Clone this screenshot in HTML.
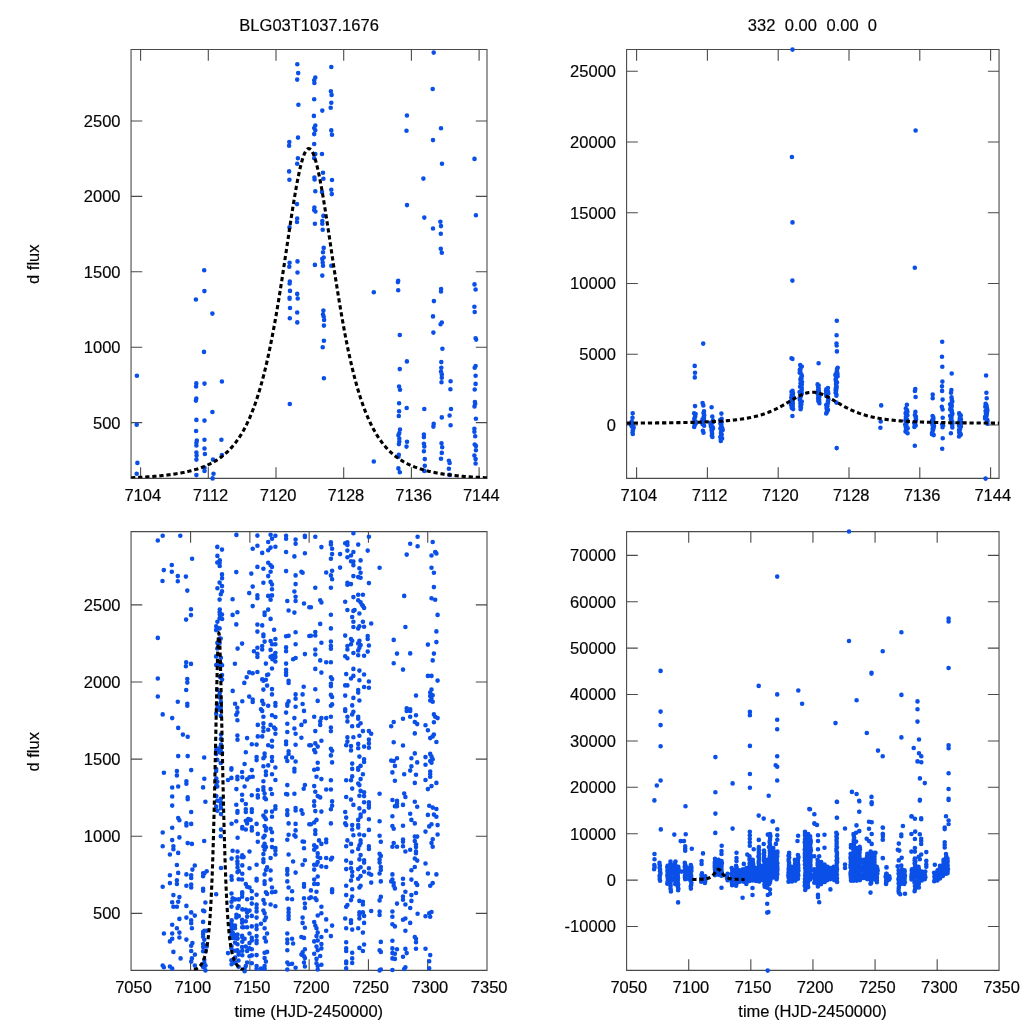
<!DOCTYPE html>
<html><head><meta charset="utf-8"><title>BLG03T1037.1676</title>
<style>html,body{margin:0;padding:0;background:#fff}svg{display:block;filter:blur(0.35px)}text{font-family:"Liberation Sans",sans-serif}</style>
</head><body>
<svg width="1024" height="1024" viewBox="0 0 1024 1024">
<rect width="1024" height="1024" fill="#fff"/>
<defs>
<clipPath id="cTL"><rect x="131.05" y="49.55" width="355.9" height="428.8"/></clipPath>
<clipPath id="cTR"><rect x="626.6" y="49.55" width="372.4" height="428.8"/></clipPath>
<clipPath id="cBL"><rect x="131.05" y="531.6" width="355.9" height="438.8"/></clipPath>
<clipPath id="cBR"><rect x="626.6" y="531.6" width="372.4" height="438.8"/></clipPath>
</defs>
<path d="M131.05 49.55H487.0V478.4H131.05ZM140.60 478.4v-11.2M140.60 49.55v11.2M208.30 478.4v-11.2M208.30 49.55v11.2M276.00 478.4v-11.2M276.00 49.55v11.2M343.70 478.4v-11.2M343.70 49.55v11.2M411.40 478.4v-11.2M411.40 49.55v11.2M479.10 478.4v-11.2M479.10 49.55v11.2M131.05 422.60h11.2M487.0 422.60h-11.2M131.05 347.20h11.2M487.0 347.20h-11.2M131.05 271.80h11.2M487.0 271.80h-11.2M131.05 196.40h11.2M487.0 196.40h-11.2M131.05 121.00h11.2M487.0 121.00h-11.2" fill="none" stroke="#4a4a4a" stroke-width="1.1"/>
<path d="M626.6 49.55H999.05V478.4H626.6ZM636.60 478.4v-11.2M636.60 49.55v11.2M707.40 478.4v-11.2M707.40 49.55v11.2M778.20 478.4v-11.2M778.20 49.55v11.2M849.00 478.4v-11.2M849.00 49.55v11.2M919.80 478.4v-11.2M919.80 49.55v11.2M990.60 478.4v-11.2M990.60 49.55v11.2M626.6 425.00h11.2M999.05 425.00h-11.2M626.6 354.25h11.2M999.05 354.25h-11.2M626.6 283.50h11.2M999.05 283.50h-11.2M626.6 212.75h11.2M999.05 212.75h-11.2M626.6 142.00h11.2M999.05 142.00h-11.2M626.6 71.25h11.2M999.05 71.25h-11.2" fill="none" stroke="#4a4a4a" stroke-width="1.1"/>
<path d="M131.05 531.6H487.0V970.4H131.05ZM190.58 970.4v-11.2M190.58 531.6v11.2M249.87 970.4v-11.2M249.87 531.6v11.2M309.15 970.4v-11.2M309.15 531.6v11.2M368.43 970.4v-11.2M368.43 531.6v11.2M427.72 970.4v-11.2M427.72 531.6v11.2M131.05 913.33h11.2M487.0 913.33h-11.2M131.05 836.21h11.2M487.0 836.21h-11.2M131.05 759.09h11.2M487.0 759.09h-11.2M131.05 681.97h11.2M487.0 681.97h-11.2M131.05 604.85h11.2M487.0 604.85h-11.2" fill="none" stroke="#4a4a4a" stroke-width="1.1"/>
<path d="M626.6 531.6H999.05V970.4H626.6ZM688.72 970.4v-11.2M688.72 531.6v11.2M750.83 970.4v-11.2M750.83 531.6v11.2M812.95 970.4v-11.2M812.95 531.6v11.2M875.07 970.4v-11.2M875.07 531.6v11.2M937.18 970.4v-11.2M937.18 531.6v11.2M626.6 926.49h11.2M999.05 926.49h-11.2M626.6 880.10h11.2M999.05 880.10h-11.2M626.6 833.71h11.2M999.05 833.71h-11.2M626.6 787.32h11.2M999.05 787.32h-11.2M626.6 740.93h11.2M999.05 740.93h-11.2M626.6 694.54h11.2M999.05 694.54h-11.2M626.6 648.15h11.2M999.05 648.15h-11.2M626.6 601.76h11.2M999.05 601.76h-11.2M626.6 555.37h11.2M999.05 555.37h-11.2" fill="none" stroke="#4a4a4a" stroke-width="1.1"/>
<g font-family="Liberation Sans, sans-serif" font-size="16.5px" fill="#000" stroke="#000" stroke-width="0.18" opacity="0.985">
<text x="142.8" y="500.9" text-anchor="middle">7104</text>
<text x="210.5" y="500.9" text-anchor="middle">7112</text>
<text x="278.2" y="500.9" text-anchor="middle">7120</text>
<text x="345.9" y="500.9" text-anchor="middle">7128</text>
<text x="413.6" y="500.9" text-anchor="middle">7136</text>
<text x="481.3" y="500.9" text-anchor="middle">7144</text>
<text x="120.5" y="428.5" text-anchor="end">500</text>
<text x="120.5" y="353.1" text-anchor="end">1000</text>
<text x="120.5" y="277.7" text-anchor="end">1500</text>
<text x="120.5" y="202.3" text-anchor="end">2000</text>
<text x="120.5" y="126.9" text-anchor="end">2500</text>
<text x="638.8" y="500.9" text-anchor="middle">7104</text>
<text x="709.6" y="500.9" text-anchor="middle">7112</text>
<text x="780.4" y="500.9" text-anchor="middle">7120</text>
<text x="851.2" y="500.9" text-anchor="middle">7128</text>
<text x="922.0" y="500.9" text-anchor="middle">7136</text>
<text x="992.8" y="500.9" text-anchor="middle">7144</text>
<text x="616.0" y="430.9" text-anchor="end">0</text>
<text x="616.0" y="360.1" text-anchor="end">5000</text>
<text x="616.0" y="289.4" text-anchor="end">10000</text>
<text x="616.0" y="218.7" text-anchor="end">15000</text>
<text x="616.0" y="147.9" text-anchor="end">20000</text>
<text x="616.0" y="77.2" text-anchor="end">25000</text>
<text x="133.5" y="992.9" text-anchor="middle">7050</text>
<text x="192.8" y="992.9" text-anchor="middle">7100</text>
<text x="252.1" y="992.9" text-anchor="middle">7150</text>
<text x="311.3" y="992.9" text-anchor="middle">7200</text>
<text x="370.6" y="992.9" text-anchor="middle">7250</text>
<text x="429.9" y="992.9" text-anchor="middle">7300</text>
<text x="489.2" y="992.9" text-anchor="middle">7350</text>
<text x="120.5" y="919.2" text-anchor="end">500</text>
<text x="120.5" y="842.1" text-anchor="end">1000</text>
<text x="120.5" y="765.0" text-anchor="end">1500</text>
<text x="120.5" y="687.9" text-anchor="end">2000</text>
<text x="120.5" y="610.8" text-anchor="end">2500</text>
<text x="628.8" y="992.9" text-anchor="middle">7050</text>
<text x="690.9" y="992.9" text-anchor="middle">7100</text>
<text x="753.0" y="992.9" text-anchor="middle">7150</text>
<text x="815.2" y="992.9" text-anchor="middle">7200</text>
<text x="877.3" y="992.9" text-anchor="middle">7250</text>
<text x="939.4" y="992.9" text-anchor="middle">7300</text>
<text x="1001.5" y="992.9" text-anchor="middle">7350</text>
<text x="616.0" y="932.4" text-anchor="end">-10000</text>
<text x="616.0" y="886.0" text-anchor="end">0</text>
<text x="616.0" y="839.6" text-anchor="end">10000</text>
<text x="616.0" y="793.2" text-anchor="end">20000</text>
<text x="616.0" y="746.8" text-anchor="end">30000</text>
<text x="616.0" y="700.4" text-anchor="end">40000</text>
<text x="616.0" y="654.1" text-anchor="end">50000</text>
<text x="616.0" y="607.7" text-anchor="end">60000</text>
<text x="616.0" y="561.3" text-anchor="end">70000</text>
<text x="309.1" y="30.6" text-anchor="middle">BLG03T1037.1676</text>
<text x="747.8" y="30.6">332</text>
<text x="784.8" y="30.6">0.00</text>
<text x="826.6" y="30.6">0.00</text>
<text x="867.7" y="30.6">0</text>
<text x="308.8" y="1017" text-anchor="middle">time (HJD-2450000)</text>
<text x="812.6" y="1017" text-anchor="middle">time (HJD-2450000)</text>
<text transform="translate(38.9 264.2) rotate(-90)" text-anchor="middle">d flux</text>
<text transform="translate(38.9 751.8) rotate(-90)" text-anchor="middle">d flux</text>
</g>
<path d="M297.3 64.3h0M298.2 73.1h0M297.2 79.6h0M298.4 104.8h0M298.0 137.6h0M289.3 142.0h0M289.1 145.7h0M297.9 158.2h0M297.2 163.7h0M289.1 171.4h0M289.4 179.8h0M297.0 204.1h0M297.2 218.5h0M297.0 222.0h0M289.5 227.4h0M289.6 262.8h0M289.3 266.7h0M297.5 261.4h0M297.5 272.5h0M289.8 281.6h0M289.6 283.4h0M290.0 290.9h0M297.2 293.9h0M289.6 297.8h0M289.6 298.8h0M297.7 298.5h0M290.0 308.0h0M297.2 312.5h0M289.8 318.2h0M297.3 322.4h0M289.8 404.0h0M204.2 270.2h0M204.4 291.1h0M195.9 299.5h0M212.4 313.6h0M204.0 351.9h0M136.9 375.8h0M196.3 383.4h0M196.1 386.4h0M204.5 383.6h0M221.9 381.5h0M196.3 398.5h0M195.9 400.6h0M212.4 412.0h0M196.4 419.9h0M204.5 420.6h0M136.7 424.8h0M196.1 431.0h0M221.4 439.7h0M204.5 439.7h0M196.8 440.6h0M196.4 442.7h0M196.4 445.5h0M204.5 448.5h0M196.4 452.6h0M204.9 454.0h0M196.6 455.6h0M221.9 455.0h0M196.4 459.6h0M213.0 459.6h0M137.4 462.9h0M204.5 467.9h0M204.5 470.9h0M136.7 473.7h0M196.4 475.1h0M213.5 473.7h0M212.6 478.4h0M315.3 77.5h0M314.2 80.2h0M314.4 83.0h0M314.2 99.2h0M313.9 115.9h0M315.3 125.5h0M314.2 128.0h0M315.3 130.3h0M314.2 134.1h0M314.2 144.0h0M315.3 154.0h0M314.2 158.2h0M314.4 177.5h0M314.6 179.5h0M315.3 191.3h0M314.4 207.6h0M314.2 210.1h0M315.4 211.5h0M314.9 223.8h0M322.3 110.6h0M322.0 154.0h0M323.0 172.8h0M323.4 178.8h0M322.0 192.1h0M323.4 215.9h0M322.3 221.1h0M322.3 223.8h0M331.3 67.0h0M330.9 91.2h0M331.6 94.9h0M331.3 102.7h0M330.7 107.8h0M331.3 130.4h0M332.0 134.8h0M332.0 180.0h0M331.3 189.7h0M331.8 194.1h0M433.7 52.6h0M432.7 89.0h0M406.9 115.5h0M406.5 130.8h0M441.0 128.2h0M433.0 140.1h0M474.5 158.9h0M442.0 163.8h0M423.4 178.6h0M407.0 205.1h0M475.9 215.3h0M424.3 217.6h0M440.4 221.7h0M441.0 226.1h0M433.0 228.5h0M322.7 229.8h0M323.7 247.9h0M323.0 252.3h0M323.7 257.5h0M322.3 258.9h0M322.7 262.5h0M323.0 265.8h0M314.9 264.9h0M331.3 265.8h0M322.3 275.6h0M323.4 310.6h0M323.0 314.5h0M323.7 316.8h0M324.1 319.9h0M323.9 325.6h0M323.9 340.7h0M322.7 347.2h0M323.9 378.3h0M373.8 292.2h0M398.2 280.7h0M397.9 282.1h0M398.2 290.2h0M399.8 335.0h0M406.9 361.4h0M399.8 369.1h0M399.1 386.5h0M400.0 389.7h0M399.1 403.2h0M406.7 408.0h0M433.9 301.1h0M433.0 316.4h0M433.4 332.6h0M440.8 233.8h0M440.8 248.7h0M441.8 252.8h0M441.1 289.0h0M441.0 291.5h0M441.8 322.6h0M440.6 324.3h0M442.4 348.8h0M441.3 362.1h0M441.3 367.7h0M441.0 371.8h0M441.8 374.4h0M441.8 377.8h0M441.5 382.3h0M450.6 381.3h0M450.4 389.2h0M451.0 409.0h0M424.3 409.0h0M474.5 284.4h0M475.6 289.5h0M474.4 306.7h0M474.7 312.0h0M475.6 338.2h0M476.1 339.6h0M475.6 366.0h0M474.7 367.7h0M475.6 375.7h0M475.6 383.9h0M474.7 389.5h0M474.9 402.0h0M475.2 403.8h0M474.5 406.4h0M399.1 411.3h0M398.8 416.0h0M400.0 429.5h0M399.3 433.1h0M398.4 435.3h0M399.3 438.5h0M399.3 441.5h0M398.9 444.1h0M398.8 454.7h0M398.4 456.8h0M398.4 468.4h0M399.8 472.3h0M407.0 441.7h0M406.5 446.6h0M373.8 461.5h0M423.9 434.5h0M423.9 437.1h0M423.9 443.8h0M424.3 446.4h0M423.9 451.2h0M424.8 459.1h0M424.8 465.8h0M424.3 470.9h0M433.7 423.9h0M433.4 426.6h0M441.8 417.4h0M441.5 443.3h0M442.2 447.3h0M441.8 452.9h0M441.0 458.7h0M449.6 415.5h0M450.6 425.3h0M448.9 460.8h0M449.6 462.9h0M448.9 468.7h0M449.6 474.9h0M475.9 418.8h0M474.4 428.8h0M474.4 431.8h0M475.2 436.2h0M474.7 444.5h0M475.9 445.9h0M475.9 450.3h0M474.4 455.6h0M475.6 459.1h0M475.6 463.5h0" fill="none" stroke="#0a4fe8" stroke-width="4.6" stroke-linecap="round"/>
<path d="M631.7 421.5h0M632.1 422.8h0M632.7 424.1h0M631.1 425.0h0M631.8 426.5h0M633.7 427.6h0M633.3 428.8h0M632.8 430.0h0M632.8 430.9h0M632.5 432.5h0M632.8 434.0h0M632.7 413.2h0M632.5 417.8h0M694.1 413.2h0M695.6 414.0h0M695.2 415.3h0M695.2 416.8h0M694.3 418.5h0M694.5 420.0h0M695.6 421.6h0M693.7 422.5h0M695.8 423.5h0M694.9 424.7h0M694.6 425.8h0M694.2 426.9h0M694.7 365.9h0M695.0 372.7h0M694.8 377.4h0M695.0 406.1h0M704.0 411.3h0M703.5 413.0h0M704.0 413.9h0M704.2 415.6h0M703.7 416.9h0M704.0 417.9h0M702.5 419.2h0M704.0 420.1h0M702.0 421.8h0M702.9 423.3h0M702.6 424.2h0M704.1 425.7h0M703.2 343.6h0M702.6 403.0h0M703.3 405.4h0M702.9 430.8h0M703.5 432.7h0M713.0 420.6h0M713.1 421.9h0M710.7 422.9h0M710.6 424.3h0M711.6 425.3h0M710.9 426.6h0M712.8 427.4h0M713.0 428.5h0M711.5 430.1h0M711.9 431.3h0M712.0 432.7h0M712.1 434.0h0M711.8 435.7h0M712.4 436.9h0M711.6 407.3h0M712.3 416.5h0M721.6 418.8h0M720.2 420.1h0M721.7 421.3h0M721.8 422.1h0M720.4 423.5h0M721.4 424.8h0M721.1 426.2h0M722.1 427.7h0M720.4 428.5h0M722.7 429.9h0M721.4 430.9h0M721.0 432.3h0M721.0 433.4h0M721.7 434.5h0M721.2 435.6h0M720.3 437.1h0M722.1 438.4h0M720.8 439.5h0M720.8 441.0h0M721.4 413.6h0M792.5 390.9h0M791.5 391.8h0M792.9 392.9h0M792.9 394.1h0M791.6 395.0h0M793.0 396.4h0M791.3 397.6h0M792.1 398.5h0M792.8 399.5h0M791.2 401.1h0M792.8 402.1h0M792.8 403.5h0M791.0 404.6h0M792.8 405.7h0M791.6 406.7h0M791.8 407.9h0M793.1 409.1h0M791.5 358.2h0M792.4 358.9h0M792.4 416.0h0M792.5 49.6h0M791.9 157.0h0M792.5 222.4h0M792.4 280.6h0M800.2 365.0h0M801.8 366.5h0M800.9 367.9h0M800.5 368.9h0M799.8 369.9h0M800.3 371.3h0M799.7 372.8h0M801.4 374.4h0M801.9 376.0h0M801.1 377.6h0M801.5 378.5h0M800.4 379.4h0M801.0 380.8h0M802.0 382.0h0M800.5 383.3h0M801.8 384.4h0M801.6 385.6h0M800.1 386.7h0M801.7 388.0h0M801.7 388.9h0M801.7 390.6h0M799.6 392.1h0M801.8 393.5h0M800.3 394.3h0M801.0 395.4h0M800.8 396.5h0M799.6 398.0h0M799.9 398.9h0M799.8 399.8h0M801.8 401.5h0M800.9 402.4h0M800.4 403.4h0M801.3 404.6h0M800.5 405.9h0M800.5 406.9h0M801.0 407.8h0M800.6 409.2h0M817.6 384.4h0M818.7 385.5h0M818.1 387.0h0M818.7 388.6h0M818.1 389.7h0M818.9 391.0h0M818.9 392.2h0M817.7 393.4h0M818.9 394.7h0M818.2 395.5h0M819.4 396.7h0M818.1 398.4h0M819.2 400.0h0M818.3 401.0h0M819.2 401.9h0M819.4 403.3h0M818.6 363.3h0M827.9 388.1h0M826.3 389.4h0M826.0 390.7h0M828.0 391.7h0M826.2 392.5h0M828.3 393.4h0M826.1 394.4h0M826.3 395.9h0M827.8 397.5h0M828.5 399.0h0M828.1 400.3h0M828.0 401.2h0M827.9 402.4h0M827.9 403.3h0M826.2 405.0h0M827.5 406.1h0M826.6 407.6h0M826.6 408.6h0M828.0 409.9h0M827.0 411.1h0M826.9 412.2h0M826.2 413.4h0M837.7 367.7h0M837.1 368.9h0M837.0 369.8h0M837.0 371.3h0M836.5 372.6h0M837.5 373.9h0M835.4 374.9h0M837.6 376.3h0M836.4 377.6h0M835.7 379.1h0M835.7 380.1h0M836.0 381.4h0M837.0 382.4h0M836.0 384.1h0M836.3 385.5h0M836.7 387.1h0M835.8 388.1h0M836.4 389.0h0M835.6 390.1h0M836.0 391.2h0M835.6 392.7h0M836.4 394.4h0M836.4 395.8h0M836.8 320.8h0M836.6 335.3h0M836.5 343.6h0M836.7 345.5h0M836.9 351.4h0M836.4 402.6h0M836.7 448.1h0M881.2 405.4h0M880.7 421.5h0M880.4 427.7h0M905.8 408.6h0M907.0 410.0h0M907.4 411.7h0M905.7 412.7h0M905.7 413.8h0M907.4 415.2h0M905.9 416.8h0M906.0 418.4h0M907.1 419.6h0M905.4 420.4h0M906.0 422.0h0M906.7 423.1h0M905.2 424.5h0M906.3 425.6h0M905.7 426.9h0M907.7 428.2h0M906.6 429.3h0M905.9 430.2h0M905.5 431.6h0M907.6 433.2h0M906.9 404.8h0M914.9 415.0h0M915.9 416.5h0M915.7 417.6h0M916.0 418.9h0M915.9 420.0h0M915.6 421.7h0M914.2 422.9h0M914.8 424.2h0M915.7 425.6h0M914.4 426.9h0M915.3 389.1h0M914.9 391.0h0M915.6 397.0h0M915.4 411.9h0M914.8 445.7h0M915.6 130.5h0M914.8 267.8h0M932.6 416.0h0M933.3 417.4h0M933.4 418.7h0M932.5 420.0h0M931.9 420.9h0M933.7 422.4h0M933.6 423.7h0M932.4 424.8h0M934.0 425.9h0M933.0 426.8h0M933.7 427.8h0M932.6 428.9h0M933.1 430.1h0M932.6 431.6h0M932.0 433.1h0M932.0 434.2h0M933.7 435.1h0M932.7 394.6h0M932.7 398.3h0M942.1 424.3h0M943.1 425.8h0M942.5 427.2h0M942.2 341.8h0M942.0 356.8h0M942.3 366.8h0M942.4 381.6h0M942.0 386.3h0M942.1 390.9h0M942.6 399.6h0M941.8 406.7h0M942.6 409.5h0M942.7 417.8h0M942.7 438.2h0M942.2 448.8h0M951.5 397.4h0M951.7 398.7h0M951.9 400.4h0M952.3 401.5h0M951.7 402.7h0M950.1 404.2h0M951.8 405.7h0M951.5 406.9h0M950.6 408.1h0M950.2 409.4h0M951.8 410.6h0M951.6 411.8h0M952.4 413.5h0M952.2 414.4h0M950.2 415.8h0M950.7 416.9h0M951.5 417.8h0M950.9 419.4h0M951.9 421.0h0M952.3 421.9h0M952.5 423.3h0M952.0 424.7h0M952.2 425.8h0M952.3 427.5h0M951.7 373.5h0M951.4 390.0h0M951.0 392.8h0M950.9 433.2h0M959.2 413.2h0M959.4 414.2h0M960.8 415.4h0M960.1 416.7h0M959.8 418.1h0M961.0 419.3h0M959.5 420.5h0M960.9 422.1h0M960.0 423.2h0M960.6 424.5h0M959.0 425.5h0M961.0 426.5h0M960.2 427.4h0M959.5 428.4h0M960.0 429.3h0M959.1 430.3h0M959.4 431.2h0M959.2 432.4h0M960.2 433.3h0M960.8 434.4h0M960.0 435.3h0M959.1 436.4h0M985.6 403.9h0M986.2 404.8h0M986.6 405.7h0M985.3 406.8h0M986.9 407.7h0M987.0 408.7h0M987.4 410.0h0M985.6 411.0h0M987.1 412.1h0M985.9 413.4h0M986.8 414.3h0M986.5 416.0h0M985.1 416.8h0M985.4 417.7h0M985.1 418.5h0M987.3 419.9h0M987.5 420.9h0M987.1 422.1h0M987.4 423.7h0M986.1 375.5h0M986.4 392.8h0M986.7 398.3h0M985.6 478.6h0" fill="none" stroke="#0a4fe8" stroke-width="4.6" stroke-linecap="round"/>
<path d="M162.7 535.8h0M157.8 540.5h0M180.3 535.8h0M192.1 558.7h0M171.8 565.0h0M163.8 570.1h0M171.8 571.7h0M177.8 576.1h0M185.9 576.6h0M162.5 581.0h0M177.8 581.2h0M187.3 590.6h0M191.0 609.3h0M191.0 615.1h0M186.1 619.6h0M157.8 637.9h0M186.2 662.2h0M191.0 663.9h0M185.9 666.2h0M157.8 678.5h0M187.3 679.1h0M187.3 682.6h0M186.2 690.0h0M157.8 696.5h0M177.8 701.7h0M187.3 703.7h0M187.3 705.8h0M246.7 677.3h0M244.3 682.9h0M249.2 696.6h0M257.4 535.6h0M257.4 545.8h0M252.7 548.8h0M262.2 552.9h0M257.4 566.9h0M263.4 568.7h0M251.3 573.6h0M252.7 586.6h0M263.4 582.7h0M249.2 593.1h0M257.4 595.4h0M257.4 598.2h0M252.7 606.1h0M264.6 612.6h0M264.6 614.9h0M257.4 624.6h0M262.2 625.4h0M257.4 631.6h0M263.4 634.6h0M263.4 636.3h0M264.6 641.6h0M262.2 646.0h0M257.4 647.8h0M262.2 649.5h0M253.9 651.3h0M257.4 653.9h0M257.4 656.9h0M265.9 663.6h0M249.2 672.4h0M252.7 673.3h0M257.4 672.0h0M262.2 679.4h0M263.4 680.8h0M265.9 679.8h0M263.4 689.6h0M252.7 699.6h0M252.7 701.9h0M262.2 700.9h0M263.4 704.0h0M261.0 709.3h0M270.6 534.7h0M275.4 535.8h0M272.0 538.8h0M268.2 542.0h0M275.4 546.7h0M270.6 547.6h0M268.2 550.2h0M268.2 562.7h0M270.6 565.2h0M272.0 566.9h0M270.6 571.7h0M268.2 576.1h0M270.6 581.9h0M272.0 584.5h0M272.0 589.2h0M268.2 595.9h0M272.0 595.4h0M270.6 599.8h0M268.2 609.6h0M270.6 618.9h0M274.1 629.8h0M275.4 639.0h0M270.6 641.1h0M272.0 644.3h0M275.4 644.3h0M270.6 649.9h0M275.4 653.0h0M272.4 655.7h0M270.6 656.9h0M275.4 656.9h0M272.4 659.2h0M275.4 661.5h0M272.0 668.5h0M268.2 674.5h0M267.1 675.0h0M267.1 685.6h0M272.0 689.1h0M272.0 694.4h0M268.2 705.8h0M275.4 703.1h0M275.4 705.8h0M286.1 535.8h0M286.1 538.8h0M286.1 552.0h0M286.1 571.1h0M287.3 601.0h0M288.6 610.5h0M286.1 636.2h0M288.6 635.8h0M286.1 647.4h0M286.1 651.3h0M286.1 663.6h0M286.1 669.7h0M286.1 672.4h0M286.1 675.0h0M288.6 680.8h0M288.6 682.9h0M288.6 701.4h0M287.3 704.0h0M287.3 705.8h0M295.6 539.5h0M295.6 543.7h0M294.4 556.4h0M295.6 575.4h0M295.6 584.1h0M294.4 591.5h0M295.6 596.8h0M295.6 601.0h0M294.4 612.6h0M295.6 632.3h0M295.6 644.3h0M295.6 658.0h0M293.1 659.2h0M295.6 694.4h0M295.6 698.8h0M295.6 706.7h0M304.9 535.8h0M304.9 537.0h0M304.9 553.2h0M301.4 571.8h0M302.6 572.7h0M304.0 603.5h0M309.3 607.3h0M309.3 636.0h0M304.9 654.1h0M303.7 686.8h0M302.6 694.4h0M302.6 704.0h0M315.3 536.7h0M321.4 547.1h0M315.3 587.7h0M326.2 572.5h0M320.2 600.3h0M321.4 602.4h0M310.9 607.3h0M320.2 623.9h0M315.3 632.0h0M310.9 635.8h0M315.3 635.5h0M321.4 642.7h0M315.3 649.5h0M315.3 654.5h0M320.2 660.4h0M326.2 662.2h0M315.3 668.9h0M321.4 672.6h0M315.3 689.3h0M317.7 700.9h0M330.9 542.3h0M330.9 544.4h0M332.1 548.8h0M332.1 554.1h0M330.9 558.7h0M332.1 570.8h0M330.9 575.4h0M332.1 579.2h0M330.9 587.7h0M330.9 614.7h0M330.9 628.4h0M330.9 641.6h0M330.9 646.0h0M330.9 648.7h0M330.9 662.2h0M330.9 677.3h0M332.1 679.1h0M330.9 683.8h0M330.9 686.1h0M330.9 694.9h0M332.1 697.0h0M332.1 704.4h0M330.9 705.8h0M340.1 554.1h0M340.1 567.6h0M345.2 543.2h0M347.4 542.3h0M347.4 544.9h0M347.4 550.6h0M347.4 557.2h0M347.4 582.7h0M347.4 584.8h0M345.2 601.7h0M347.4 610.0h0M345.2 635.6h0M347.4 646.0h0M347.4 649.5h0M345.2 656.2h0M347.4 658.3h0M346.2 674.1h0M345.2 685.4h0M347.4 685.4h0M345.2 695.6h0M345.2 709.3h0M353.4 533.2h0M353.4 552.0h0M351.0 555.5h0M351.0 561.3h0M353.4 561.6h0M353.4 565.2h0M353.4 576.1h0M351.0 584.1h0M353.4 597.1h0M353.4 610.9h0M354.6 610.0h0M352.2 617.0h0M353.4 621.8h0M353.4 627.0h0M351.0 639.0h0M352.2 640.7h0M351.0 644.3h0M353.4 653.0h0M353.4 668.9h0M353.4 675.9h0M351.0 678.5h0M353.4 697.9h0M352.2 705.4h0M358.2 544.6h0M360.6 560.4h0M359.4 568.3h0M360.6 572.7h0M358.2 577.1h0M360.6 577.8h0M358.2 594.7h0M362.9 594.7h0M358.2 600.3h0M360.6 602.4h0M361.9 604.7h0M362.9 605.9h0M364.1 607.9h0M359.4 613.5h0M362.9 621.8h0M359.4 626.3h0M358.2 628.4h0M364.1 626.7h0M359.4 640.7h0M358.2 643.4h0M360.6 645.1h0M359.4 647.8h0M358.2 650.4h0M358.2 655.2h0M364.1 655.7h0M359.4 670.6h0M364.1 674.5h0M359.4 680.3h0M364.1 687.0h0M358.2 690.0h0M358.2 692.6h0M359.4 700.5h0M368.9 536.7h0M367.7 550.6h0M368.9 583.1h0M379.6 567.8h0M371.2 623.5h0M367.7 636.0h0M367.7 639.0h0M368.9 645.5h0M367.7 651.6h0M368.9 681.5h0M368.9 687.7h0M417.6 536.7h0M410.2 543.7h0M417.6 546.3h0M406.7 554.6h0M404.2 595.9h0M405.4 627.0h0M393.7 639.9h0M397.0 653.6h0M410.2 653.4h0M393.7 663.2h0M403.0 669.6h0M416.0 695.6h0M406.7 708.4h0M410.2 709.3h0M432.7 542.0h0M435.2 552.0h0M436.4 553.4h0M431.5 555.5h0M431.5 567.8h0M433.9 572.7h0M433.9 587.1h0M431.5 598.2h0M435.2 599.8h0M437.6 614.9h0M436.4 631.4h0M436.4 642.1h0M427.9 644.6h0M433.9 653.6h0M432.7 660.4h0M427.9 675.9h0M431.5 675.9h0M437.6 680.6h0M431.5 689.6h0M430.2 692.6h0M432.7 695.2h0M430.2 696.1h0M431.5 698.8h0M430.2 700.5h0M432.7 701.7h0M162.7 714.4h0M172.2 718.1h0M178.2 727.9h0M182.9 734.6h0M187.7 736.7h0M178.2 756.1h0M187.7 756.1h0M163.9 772.8h0M176.9 771.0h0M176.9 775.4h0M191.2 770.1h0M186.4 781.2h0M186.4 783.8h0M178.2 786.5h0M172.2 787.5h0M172.2 796.5h0M187.7 797.4h0M187.7 799.3h0M172.2 805.6h0M191.2 812.0h0M178.2 818.1h0M179.4 820.2h0M186.4 823.4h0M186.4 825.5h0M191.2 823.9h0M172.2 827.8h0M162.7 832.5h0M179.4 837.4h0M172.2 840.1h0M187.7 843.1h0M191.9 843.9h0M162.7 846.2h0M173.4 846.2h0M173.4 849.2h0M178.2 852.9h0M169.9 854.5h0M176.9 865.0h0M192.4 869.6h0M178.2 872.9h0M169.9 875.2h0M186.4 874.4h0M191.2 875.2h0M191.2 877.9h0M176.9 880.2h0M169.9 883.1h0M176.9 884.0h0M186.4 885.8h0M191.2 884.6h0M191.2 887.5h0M162.7 886.7h0M247.1 738.1h0M251.8 744.3h0M256.6 744.6h0M245.8 752.2h0M244.6 764.0h0M251.8 770.1h0M247.1 779.4h0M249.5 777.3h0M252.7 776.8h0M244.6 786.5h0M251.8 795.3h0M245.8 804.0h0M245.8 809.3h0M245.8 812.0h0M251.8 809.3h0M251.8 812.0h0M245.8 820.7h0M248.3 819.0h0M250.6 819.9h0M247.1 823.4h0M245.8 829.5h0M251.8 827.4h0M251.8 830.4h0M249.5 851.5h0M243.6 857.1h0M249.5 868.2h0M245.8 884.0h0M247.1 886.7h0M249.5 887.5h0M262.2 710.9h0M263.4 716.7h0M272.0 715.3h0M275.4 717.0h0M257.8 724.9h0M263.4 723.2h0M263.4 727.6h0M270.6 724.9h0M274.1 727.6h0M275.4 729.0h0M268.2 729.7h0M263.4 731.1h0M275.4 733.7h0M257.8 736.4h0M262.2 736.4h0M272.0 740.8h0M268.2 745.2h0M272.0 746.6h0M264.6 753.6h0M264.6 756.6h0M256.6 757.1h0M256.6 760.1h0M263.4 758.3h0M272.0 757.1h0M272.0 761.0h0M263.4 766.2h0M268.2 765.4h0M275.4 767.5h0M265.9 771.5h0M265.9 775.0h0M272.0 774.2h0M275.4 780.0h0M263.4 781.2h0M263.4 787.3h0M263.4 790.0h0M257.8 790.0h0M270.6 789.1h0M264.6 793.5h0M257.8 795.3h0M257.8 797.4h0M272.0 794.0h0M264.6 797.9h0M265.9 799.3h0M275.4 806.3h0M275.4 808.8h0M265.9 811.6h0M272.0 811.6h0M263.4 815.5h0M264.6 817.2h0M272.0 816.7h0M265.9 819.3h0M256.6 823.9h0M264.6 826.0h0M265.9 827.8h0M270.6 828.7h0M265.9 830.4h0M272.0 832.2h0M257.8 833.9h0M264.6 835.7h0M263.4 837.4h0M272.0 840.1h0M257.8 841.8h0M264.6 843.9h0M263.4 846.2h0M265.9 847.1h0M272.0 847.1h0M275.4 848.0h0M264.6 849.7h0M275.4 850.6h0M263.4 854.1h0M275.4 854.5h0M270.6 858.0h0M263.4 859.4h0M263.4 862.1h0M256.6 864.7h0M267.1 867.3h0M265.9 870.0h0M270.6 870.5h0M264.6 874.4h0M256.6 878.8h0M256.6 880.5h0M264.6 881.4h0M270.6 879.6h0M264.6 884.0h0M272.0 887.5h0M286.1 712.6h0M294.4 718.1h0M287.3 723.7h0M294.4 728.5h0M287.3 732.0h0M295.6 733.7h0M286.1 741.6h0M286.1 744.3h0M295.6 744.8h0M288.6 751.3h0M288.6 753.9h0M286.1 757.5h0M292.1 757.5h0M287.3 761.0h0M295.6 761.5h0M294.4 768.9h0M294.4 771.5h0M287.3 785.1h0M286.1 794.0h0M287.3 794.4h0M294.4 793.7h0M295.6 808.1h0M295.6 810.5h0M287.3 810.2h0M287.3 814.9h0M287.3 813.7h0M288.6 823.4h0M295.6 823.9h0M295.6 830.4h0M288.6 834.8h0M294.4 835.2h0M295.6 836.6h0M287.3 839.7h0M288.6 854.5h0M293.1 861.5h0M287.3 869.1h0M287.3 870.8h0M287.3 874.4h0M295.6 872.6h0M287.3 881.4h0M288.6 887.5h0M304.0 710.9h0M304.9 721.4h0M301.4 724.9h0M301.4 737.8h0M309.3 745.2h0M304.9 785.1h0M303.7 788.8h0M301.4 810.2h0M302.6 813.7h0M309.3 824.3h0M302.6 841.5h0M304.0 841.8h0M304.0 848.3h0M304.9 860.3h0M302.6 864.7h0M304.0 884.0h0M304.0 886.7h0M314.2 716.7h0M321.4 718.1h0M326.2 718.1h0M330.9 716.7h0M320.2 721.4h0M320.2 724.9h0M330.9 727.6h0M330.9 731.1h0M315.3 731.1h0M321.4 740.8h0M315.3 743.4h0M310.9 745.2h0M317.7 746.6h0M314.2 750.1h0M315.3 752.2h0M330.9 748.7h0M332.1 750.8h0M330.9 755.4h0M317.7 762.7h0M332.1 762.4h0M317.7 768.9h0M314.2 769.8h0M316.5 776.8h0M321.4 779.1h0M330.9 780.3h0M314.2 786.1h0M326.2 789.5h0M330.9 789.5h0M315.3 791.7h0M317.7 796.1h0M320.2 797.4h0M314.2 801.4h0M332.1 801.4h0M314.2 805.8h0M332.1 805.8h0M330.9 809.3h0M315.3 811.1h0M321.4 811.6h0M316.5 819.9h0M314.2 822.5h0M310.9 824.3h0M330.9 823.4h0M315.3 830.4h0M315.3 833.9h0M319.0 840.4h0M326.2 839.6h0M326.2 842.2h0M314.2 845.4h0M321.4 843.9h0M316.5 847.1h0M314.2 849.7h0M317.7 853.3h0M317.7 856.8h0M320.2 858.0h0M326.2 858.0h0M330.9 859.4h0M332.1 857.7h0M317.7 862.1h0M314.2 864.7h0M316.5 864.7h0M321.4 866.4h0M326.2 867.0h0M314.2 869.6h0M317.7 876.5h0M314.2 879.6h0M314.2 884.0h0M317.7 884.0h0M332.1 889.3h0M345.2 710.9h0M353.4 711.8h0M352.2 714.4h0M347.4 716.7h0M347.4 721.4h0M352.2 726.3h0M347.4 737.2h0M353.4 737.2h0M347.4 741.6h0M346.2 745.2h0M351.0 746.0h0M351.0 750.4h0M352.2 763.6h0M352.2 768.9h0M352.2 776.4h0M346.2 780.3h0M351.0 780.3h0M352.2 788.6h0M346.2 797.0h0M351.0 799.6h0M353.4 804.9h0M345.2 812.0h0M346.2 817.6h0M345.2 823.4h0M346.2 825.1h0M352.2 825.1h0M352.2 829.5h0M353.4 835.2h0M347.4 840.4h0M351.0 843.9h0M346.2 846.2h0M352.2 851.5h0M346.2 860.6h0M351.0 862.9h0M346.2 869.1h0M351.0 868.2h0M352.2 871.7h0M352.2 876.1h0M351.0 880.5h0M346.2 885.8h0M352.2 889.3h0M358.2 716.7h0M358.2 718.8h0M360.6 723.2h0M358.2 725.8h0M362.9 731.1h0M368.9 731.1h0M371.2 733.7h0M359.4 735.8h0M368.9 739.5h0M368.9 743.4h0M358.2 743.9h0M358.2 748.3h0M364.1 746.6h0M368.9 747.8h0M359.4 756.6h0M364.1 759.2h0M364.1 761.9h0M360.6 765.9h0M358.2 768.0h0M358.2 769.8h0M362.9 774.2h0M360.6 779.1h0M358.2 783.5h0M359.4 785.1h0M360.6 790.9h0M364.1 792.3h0M359.4 795.8h0M364.1 796.1h0M364.1 802.3h0M368.9 802.3h0M368.9 804.9h0M368.9 807.6h0M359.4 808.4h0M364.1 811.4h0M360.6 814.6h0M360.6 816.7h0M358.2 819.9h0M368.9 819.3h0M358.2 825.1h0M358.2 827.4h0M368.9 829.9h0M359.4 834.5h0M364.1 835.3h0M360.6 840.4h0M360.6 843.1h0M359.4 845.4h0M358.2 848.9h0M368.9 846.2h0M368.9 848.9h0M360.6 855.0h0M359.4 859.4h0M364.1 860.3h0M364.1 862.6h0M360.6 867.3h0M358.2 869.1h0M368.9 868.2h0M364.1 871.7h0M368.9 873.5h0M371.2 874.7h0M360.6 876.1h0M358.2 878.8h0M371.2 882.6h0M360.6 885.8h0M359.4 887.5h0M379.6 793.8h0M379.6 821.3h0M379.6 835.7h0M380.8 841.8h0M379.6 853.8h0M380.8 855.9h0M379.6 859.4h0M379.6 862.6h0M380.8 867.0h0M380.8 870.0h0M379.6 873.5h0M380.8 881.4h0M393.7 722.0h0M391.2 726.3h0M403.0 718.8h0M393.7 742.2h0M403.0 745.5h0M397.0 758.3h0M391.2 760.6h0M393.7 761.0h0M394.9 765.9h0M392.4 772.4h0M404.2 774.2h0M394.9 780.7h0M404.2 793.5h0M405.4 797.0h0M392.4 800.0h0M397.0 800.9h0M397.0 803.2h0M394.9 806.3h0M397.0 806.3h0M403.0 804.9h0M392.4 816.3h0M392.4 826.0h0M393.7 828.7h0M403.0 825.7h0M403.0 839.6h0M403.0 841.8h0M393.7 843.1h0M392.4 846.8h0M397.0 846.8h0M403.0 846.2h0M405.4 851.5h0M392.4 874.4h0M392.4 879.6h0M391.2 881.4h0M393.7 883.1h0M393.7 885.8h0M394.9 888.4h0M403.0 878.8h0M403.0 884.0h0M406.7 710.9h0M410.2 710.9h0M410.2 716.7h0M416.0 715.3h0M414.8 722.0h0M417.2 724.1h0M414.8 733.4h0M414.8 753.4h0M411.4 758.3h0M417.2 762.4h0M411.4 766.2h0M410.2 770.6h0M416.0 774.7h0M414.8 782.9h0M414.8 801.8h0M417.2 806.7h0M410.2 813.7h0M411.4 819.9h0M414.8 823.4h0M414.8 836.6h0M417.2 836.6h0M414.8 841.0h0M416.0 844.5h0M416.0 847.1h0M410.2 849.7h0M416.0 851.5h0M416.0 853.3h0M414.8 858.5h0M417.2 860.6h0M414.8 867.0h0M411.4 870.3h0M411.4 879.6h0M416.0 883.1h0M417.2 884.9h0M433.9 714.4h0M435.2 716.7h0M437.6 718.1h0M433.9 722.3h0M425.5 725.3h0M427.9 730.2h0M433.9 734.6h0M432.7 736.4h0M430.2 738.1h0M436.4 742.0h0M430.2 753.9h0M425.5 757.1h0M431.5 756.6h0M432.7 759.2h0M430.2 761.0h0M431.5 762.7h0M425.5 764.8h0M430.2 771.5h0M430.2 774.2h0M430.2 776.8h0M425.5 780.0h0M436.4 782.9h0M431.5 786.1h0M427.9 789.1h0M429.2 805.8h0M432.7 807.6h0M436.4 809.0h0M427.9 814.9h0M433.9 814.6h0M436.4 816.7h0M431.5 824.3h0M429.2 826.4h0M437.6 825.1h0M425.5 831.6h0M437.6 834.5h0M432.7 839.2h0M431.5 843.1h0M432.7 846.8h0M425.5 863.5h0M427.9 873.5h0M436.4 874.4h0M432.7 883.1h0M430.2 885.8h0M173.4 895.1h0M179.4 897.1h0M172.2 902.3h0M178.2 901.8h0M173.4 906.7h0M176.9 906.7h0M186.4 905.9h0M191.2 912.4h0M186.4 917.6h0M179.4 918.9h0M191.2 920.3h0M191.2 923.3h0M172.2 924.7h0M176.9 928.2h0M191.9 928.2h0M163.9 933.5h0M172.2 933.5h0M179.4 932.6h0M179.4 937.5h0M172.2 938.7h0M169.9 941.4h0M186.4 939.6h0M192.4 943.1h0M191.2 945.8h0M191.2 951.0h0M173.4 951.9h0M180.6 958.4h0M191.9 958.4h0M191.2 961.6h0M162.7 965.5h0M163.9 967.2h0M169.9 966.5h0M172.2 968.6h0M251.8 891.3h0M256.6 894.8h0M247.1 899.2h0M251.8 898.3h0M245.8 909.7h0M249.5 910.6h0M251.8 903.6h0M256.6 904.5h0M256.6 908.0h0M256.6 911.5h0M247.1 912.4h0M247.1 916.8h0M251.8 915.9h0M256.6 917.6h0M245.8 921.2h0M243.6 927.3h0M247.1 927.3h0M251.8 926.4h0M256.6 925.6h0M256.6 929.1h0M249.5 933.5h0M244.6 938.7h0M251.8 937.9h0M256.6 936.1h0M256.6 940.5h0M256.6 943.1h0M249.5 943.1h0M251.8 940.5h0M245.8 946.6h0M249.5 948.4h0M251.8 949.3h0M247.1 951.0h0M249.5 956.3h0M251.8 955.4h0M256.6 955.1h0M247.1 962.5h0M251.8 963.3h0M245.8 966.0h0M256.6 966.0h0M244.6 968.6h0M256.6 968.6h0M244.6 971.3h0M265.9 892.2h0M267.1 893.9h0M272.0 892.2h0M275.4 891.8h0M263.4 900.1h0M264.6 903.6h0M270.6 904.5h0M275.4 906.2h0M263.4 910.6h0M264.6 913.2h0M265.9 917.6h0M264.6 920.3h0M261.0 923.8h0M264.6 928.2h0M267.1 933.5h0M264.6 937.9h0M265.9 941.4h0M267.1 951.9h0M264.6 952.8h0M264.6 958.1h0M265.9 961.6h0M264.6 966.0h0M261.0 968.6h0M264.6 968.6h0M292.1 891.3h0M287.3 898.7h0M292.1 899.2h0M288.6 908.9h0M288.6 912.4h0M288.6 915.9h0M288.6 918.9h0M287.3 933.5h0M287.3 939.6h0M292.1 938.7h0M287.3 943.1h0M293.1 943.5h0M287.3 950.2h0M287.3 962.5h0M288.6 964.2h0M292.1 963.7h0M287.3 969.5h0M295.6 967.7h0M304.0 898.3h0M304.9 903.6h0M304.9 908.0h0M302.6 917.6h0M302.6 922.9h0M304.9 927.8h0M301.4 937.0h0M304.0 937.9h0M304.9 949.3h0M302.6 952.4h0M301.4 954.6h0M304.0 956.3h0M304.9 958.1h0M304.0 962.5h0M304.9 966.5h0M309.3 898.3h0M310.9 890.4h0M316.5 891.8h0M310.9 897.4h0M315.3 898.3h0M316.5 900.1h0M332.1 890.4h0M332.1 892.2h0M321.4 906.7h0M321.4 913.2h0M317.7 915.5h0M326.2 919.4h0M314.2 922.0h0M315.3 925.6h0M332.1 925.6h0M316.5 928.2h0M326.2 930.8h0M317.7 932.6h0M316.5 936.1h0M321.4 937.0h0M330.9 936.1h0M314.2 941.4h0M317.7 940.5h0M321.4 944.0h0M316.5 946.6h0M321.4 948.4h0M317.7 950.2h0M314.2 953.7h0M320.2 956.0h0M316.5 958.9h0M316.5 963.3h0M321.4 964.8h0M317.7 966.0h0M317.7 969.5h0M346.2 895.1h0M352.2 896.5h0M351.0 900.1h0M347.4 905.0h0M346.2 906.7h0M345.2 918.5h0M351.0 920.3h0M351.0 922.9h0M346.2 928.2h0M352.2 929.6h0M346.2 942.2h0M346.2 948.4h0M346.2 951.0h0M352.2 952.8h0M352.2 958.4h0M346.2 961.6h0M352.2 963.0h0M346.2 963.3h0M346.2 968.3h0M359.4 900.9h0M362.9 901.8h0M362.9 904.5h0M371.2 911.0h0M359.4 912.4h0M362.9 912.4h0M359.4 915.0h0M364.1 915.9h0M359.4 918.5h0M364.1 922.9h0M358.2 928.2h0M362.9 932.6h0M364.1 944.5h0M359.4 947.9h0M362.9 951.0h0M380.8 896.9h0M379.6 900.4h0M379.6 911.5h0M379.6 915.0h0M380.8 941.9h0M379.6 950.2h0M380.8 951.9h0M379.6 970.4h0M380.8 969.5h0M397.0 903.6h0M392.4 911.5h0M392.4 916.8h0M392.4 924.3h0M394.9 926.4h0M392.4 940.8h0M392.4 948.4h0M397.0 949.3h0M392.4 953.1h0M394.9 953.7h0M392.4 958.4h0M394.9 958.9h0M392.4 970.0h0M405.4 891.8h0M403.0 896.5h0M403.0 899.7h0M411.4 895.1h0M416.0 893.0h0M411.4 900.9h0M405.4 904.5h0M410.2 908.0h0M417.6 913.8h0M405.4 918.5h0M403.0 919.8h0M410.2 922.9h0M405.4 930.8h0M414.8 937.0h0M416.0 938.7h0M416.0 942.2h0M405.4 948.9h0M416.0 948.8h0M406.7 953.1h0M403.0 956.8h0M405.4 967.2h0M404.2 969.0h0M431.5 912.0h0M429.2 913.2h0M425.5 916.2h0M430.2 916.8h0M425.5 948.8h0M430.2 955.1h0M429.2 961.2h0M429.2 968.3h0M217.3 546.9h0M217.4 555.9h0M217.3 562.5h0M217.4 588.3h0M217.4 621.8h0M216.2 626.3h0M216.1 630.1h0M217.4 642.9h0M217.3 648.5h0M216.1 656.4h0M216.2 665.0h0M217.2 689.8h0M217.3 704.6h0M217.2 708.2h0M216.2 713.7h0M216.2 749.9h0M216.2 753.9h0M217.3 748.5h0M217.3 759.8h0M216.2 769.1h0M216.2 771.0h0M216.3 778.6h0M217.3 781.7h0M216.2 785.7h0M216.2 786.7h0M217.3 786.4h0M216.3 796.1h0M217.3 800.7h0M216.2 806.5h0M217.3 810.8h0M216.2 894.3h0M204.2 757.5h0M204.3 778.8h0M203.1 787.4h0M205.4 801.8h0M204.2 841.0h0M194.8 865.5h0M203.1 873.2h0M203.1 876.3h0M204.3 873.4h0M206.7 871.3h0M203.1 888.7h0M203.1 890.8h0M205.4 902.5h0M203.1 910.6h0M204.3 911.3h0M194.8 915.6h0M203.1 921.9h0M206.6 930.8h0M204.3 930.8h0M203.2 931.7h0M203.1 933.9h0M203.1 936.8h0M204.3 939.8h0M203.1 944.0h0M204.3 945.4h0M203.2 947.1h0M206.7 946.5h0M203.1 951.2h0M205.5 951.2h0M194.9 954.6h0M204.3 959.7h0M204.3 962.7h0M194.8 965.6h0M203.1 967.0h0M205.5 965.6h0M205.4 970.4h0M219.8 560.4h0M219.6 563.1h0M219.7 566.0h0M219.6 582.6h0M219.6 599.6h0M219.8 609.5h0M219.6 612.0h0M219.8 614.4h0M219.6 618.3h0M219.6 628.4h0M219.8 638.6h0M219.6 642.9h0M219.7 662.6h0M219.7 664.7h0M219.8 676.8h0M219.7 693.4h0M219.6 696.0h0M219.8 697.4h0M219.7 710.0h0M220.8 594.2h0M220.7 638.6h0M220.9 657.8h0M220.9 664.0h0M220.7 677.6h0M220.9 701.9h0M220.8 707.2h0M220.8 710.0h0M222.0 549.6h0M222.0 574.4h0M222.1 578.2h0M222.0 586.1h0M222.0 591.4h0M222.0 614.5h0M222.1 619.0h0M222.1 665.2h0M222.0 675.1h0M222.1 679.6h0M236.4 534.9h0M236.3 572.1h0M232.6 599.2h0M232.6 614.9h0M237.4 612.2h0M236.3 624.4h0M242.1 643.6h0M237.6 648.6h0M234.9 663.8h0M232.7 690.9h0M242.3 701.3h0M235.1 703.7h0M237.3 707.8h0M237.4 712.3h0M236.3 714.8h0M220.8 716.1h0M221.0 734.6h0M220.9 739.1h0M221.0 744.5h0M220.8 745.9h0M220.8 749.6h0M220.9 753.0h0M219.7 752.0h0M222.0 753.0h0M220.8 763.0h0M220.9 798.8h0M220.9 802.8h0M221.0 805.1h0M221.0 808.3h0M221.0 814.1h0M221.0 829.6h0M220.8 836.2h0M221.0 868.0h0M228.0 780.0h0M231.4 768.2h0M231.4 769.6h0M231.4 777.9h0M231.6 823.7h0M232.6 850.7h0M231.6 858.6h0M231.5 876.4h0M231.7 879.7h0M231.5 893.5h0M232.6 898.4h0M236.4 789.1h0M236.3 804.7h0M236.3 821.3h0M237.4 720.2h0M237.4 735.5h0M237.5 739.7h0M237.4 776.7h0M237.4 779.2h0M237.5 811.1h0M237.4 812.8h0M237.6 837.8h0M237.5 851.5h0M237.5 857.2h0M237.4 861.4h0M237.5 864.0h0M237.5 867.5h0M237.5 872.1h0M238.8 871.1h0M238.7 879.2h0M238.8 899.4h0M235.1 899.4h0M242.1 772.0h0M242.3 777.2h0M242.1 794.8h0M242.1 800.2h0M242.3 827.0h0M242.3 828.4h0M242.3 855.4h0M242.1 857.2h0M242.3 865.4h0M242.3 873.7h0M242.1 879.5h0M242.2 892.3h0M242.2 894.1h0M242.1 896.8h0M231.5 901.8h0M231.5 906.6h0M231.7 920.4h0M231.6 924.1h0M231.4 926.3h0M231.6 929.6h0M231.6 932.7h0M231.5 935.3h0M231.5 946.2h0M231.4 948.3h0M231.4 960.2h0M231.6 964.2h0M232.7 932.9h0M232.6 937.9h0M228.0 953.1h0M235.0 925.5h0M235.0 928.2h0M235.0 935.0h0M235.1 937.7h0M235.0 942.6h0M235.1 950.7h0M235.1 957.5h0M235.1 962.7h0M236.4 914.7h0M236.3 917.4h0M237.5 908.0h0M237.5 934.5h0M237.6 938.6h0M237.5 944.3h0M237.4 950.3h0M238.6 906.1h0M238.8 916.1h0M238.5 952.4h0M238.6 954.6h0M238.5 960.5h0M238.6 966.8h0M242.3 909.4h0M242.1 919.7h0M242.1 922.7h0M242.2 927.2h0M242.1 935.7h0M242.3 937.2h0M242.3 941.7h0M242.1 947.1h0M242.3 950.7h0M242.3 955.2h0" fill="none" stroke="#0a4fe8" stroke-width="4.6" stroke-linecap="round"/>
<path d="M654.3 865.1h0M654.6 866.5h0M654.5 867.8h0M654.1 869.3h0M659.5 862.8h0M659.6 864.4h0M659.9 865.7h0M659.6 867.8h0M660.1 869.2h0M660.0 871.3h0M660.4 872.9h0M660.3 874.2h0M659.6 875.7h0M659.8 877.0h0M659.7 879.0h0M660.1 880.8h0M667.6 865.7h0M667.2 867.0h0M667.7 868.4h0M667.4 870.0h0M667.5 871.8h0M667.8 873.3h0M667.3 875.2h0M667.6 877.0h0M667.8 879.1h0M668.0 880.5h0M667.5 881.9h0M667.3 883.8h0M670.4 863.4h0M671.1 865.3h0M671.2 867.0h0M671.0 868.5h0M670.9 870.3h0M671.2 872.0h0M670.8 874.1h0M670.5 876.0h0M671.0 877.9h0M671.1 880.1h0M670.8 881.6h0M670.4 883.4h0M670.6 885.1h0M670.5 886.4h0M670.5 888.4h0M670.8 889.8h0M674.8 863.4h0M675.2 865.0h0M675.5 867.1h0M675.0 869.2h0M675.1 870.8h0M675.6 872.9h0M674.9 874.2h0M675.0 875.7h0M675.3 877.4h0M674.7 878.8h0M675.1 880.4h0M675.6 882.2h0M675.2 884.1h0M678.3 866.9h0M678.5 868.2h0M678.5 870.1h0M678.0 872.1h0M677.8 873.7h0M677.7 875.6h0M677.9 876.8h0M678.0 878.2h0M677.7 879.5h0M677.8 880.8h0M677.7 882.4h0M678.2 884.4h0M677.9 885.8h0M678.0 887.3h0M678.4 888.7h0M681.6 871.6h0M684.8 862.8h0M685.0 864.1h0M685.5 865.6h0M684.7 866.9h0M685.2 869.1h0M685.2 870.4h0M685.2 871.7h0M685.5 873.8h0M684.9 875.7h0M684.9 877.3h0M685.2 879.3h0M687.9 868.1h0M688.4 869.5h0M688.4 871.7h0M688.4 873.7h0M687.8 875.6h0M688.0 877.3h0M687.7 878.6h0M690.8 865.1h0M691.4 867.0h0M691.4 868.7h0M691.4 870.9h0M690.8 872.4h0M690.7 873.9h0M691.1 875.3h0M691.3 877.4h0M691.2 879.0h0M690.6 881.0h0M691.4 882.9h0M691.2 884.9h0M690.7 886.6h0M690.9 888.6h0M702.0 873.3h0M701.5 874.9h0M701.8 877.1h0M701.2 878.5h0M701.9 879.8h0M701.2 881.8h0M705.3 876.3h0M704.7 878.1h0M704.5 879.9h0M705.3 881.1h0M704.9 882.9h0M715.0 858.7h0M715.3 860.8h0M714.8 862.2h0M714.8 863.7h0M714.8 865.5h0M714.7 867.1h0M714.9 869.2h0M715.1 870.8h0M715.0 873.0h0M715.0 875.1h0M718.6 859.9h0M718.5 861.1h0M718.1 862.5h0M718.3 864.5h0M718.8 866.1h0M718.4 867.9h0M718.6 869.6h0M718.2 871.6h0M718.3 873.4h0M718.8 874.8h0M721.5 861.0h0M721.9 863.0h0M721.6 864.6h0M721.5 866.4h0M721.4 868.2h0M721.5 870.0h0M721.7 872.1h0M721.9 874.2h0M721.5 875.7h0M727.6 873.9h0M727.0 875.3h0M727.0 876.9h0M727.0 878.4h0M727.6 880.2h0M731.7 868.1h0M732.2 870.0h0M732.4 871.3h0M731.8 873.5h0M731.9 875.7h0M732.5 877.3h0M731.7 879.4h0M732.0 881.0h0M731.8 882.5h0M732.2 884.1h0M732.1 885.3h0M736.1 865.7h0M736.6 867.3h0M736.1 869.0h0M736.7 871.2h0M736.1 873.3h0M736.1 874.8h0M736.3 876.8h0M736.4 878.1h0M736.8 880.2h0M736.2 881.7h0M736.5 883.8h0M736.1 885.7h0M739.8 870.4h0M739.3 872.0h0M739.8 874.2h0M739.3 876.2h0M739.3 878.2h0M739.6 880.3h0M739.7 881.8h0M743.0 869.2h0M743.2 870.6h0M742.8 872.0h0M742.8 873.4h0M743.0 874.8h0M743.4 876.3h0M743.2 877.8h0M743.0 879.2h0M742.9 880.4h0M743.4 881.6h0M746.4 868.1h0M747.1 869.7h0M747.0 871.1h0M746.7 872.7h0M746.6 874.7h0M746.8 876.4h0M746.5 878.6h0M746.9 880.6h0M746.6 882.5h0M746.3 884.0h0M749.5 856.4h0M749.6 858.3h0M749.5 859.7h0M750.2 861.7h0M749.6 863.6h0M749.7 865.0h0M749.5 866.7h0M749.6 868.3h0M750.3 870.5h0M749.6 872.2h0M749.7 874.4h0M749.4 876.0h0M749.8 877.5h0M749.6 879.2h0M749.4 880.9h0M752.8 859.9h0M752.7 861.5h0M752.9 862.7h0M753.2 864.1h0M753.4 865.9h0M753.3 867.7h0M753.0 869.8h0M753.6 871.3h0M753.3 872.7h0M752.7 874.5h0M753.5 876.5h0M753.3 878.4h0M752.8 880.4h0M756.1 868.1h0M756.3 870.1h0M756.1 872.1h0M756.2 874.2h0M755.8 876.1h0M755.7 877.4h0M755.7 878.9h0M756.1 881.0h0M758.9 847.0h0M758.7 848.9h0M759.0 850.1h0M758.8 852.0h0M758.9 853.7h0M759.0 855.0h0M758.4 856.5h0M759.0 857.9h0M759.0 859.3h0M758.7 861.5h0M758.7 863.1h0M759.0 865.0h0M758.9 866.8h0M758.4 868.1h0M759.0 869.5h0M758.8 871.0h0M758.4 872.2h0M758.9 873.7h0M758.9 875.6h0M758.8 877.1h0M758.7 878.8h0M759.1 880.1h0M759.2 881.5h0M760.9 865.7h0M761.6 867.4h0M761.3 869.6h0M761.1 871.0h0M761.1 873.2h0M761.0 875.0h0M761.7 876.7h0M761.6 878.0h0M761.7 879.7h0M764.0 850.5h0M764.2 852.6h0M763.8 853.8h0M764.2 855.5h0M763.9 857.0h0M764.1 858.6h0M763.8 860.6h0M764.6 862.5h0M764.6 863.9h0M764.6 865.8h0M764.1 867.3h0M764.7 868.9h0M764.1 870.7h0M764.1 872.3h0M763.9 873.5h0M764.1 875.6h0M764.0 877.7h0M764.3 879.2h0M764.1 880.6h0M764.6 882.7h0M764.4 884.7h0M764.7 886.8h0M767.4 859.9h0M767.4 861.1h0M767.4 862.8h0M767.0 864.6h0M767.6 865.9h0M767.2 867.2h0M767.0 868.7h0M767.6 870.7h0M767.3 872.1h0M767.2 873.6h0M766.9 875.2h0M766.9 876.6h0M767.2 878.7h0M767.6 880.1h0M767.1 882.3h0M766.9 883.7h0M767.0 884.9h0M767.0 886.2h0M767.3 887.7h0M769.8 856.4h0M769.5 858.0h0M769.4 859.7h0M769.1 861.2h0M770.0 862.7h0M769.5 864.0h0M769.9 865.9h0M769.3 867.3h0M769.4 868.7h0M769.9 870.4h0M769.9 872.4h0M769.1 873.6h0M769.9 875.6h0M769.6 877.2h0M769.4 878.4h0M769.8 880.6h0M770.0 882.6h0M769.2 884.1h0M770.0 834.0h0M770.4 835.9h0M770.1 837.8h0M770.0 839.8h0M769.6 841.5h0M769.8 843.5h0M770.1 845.6h0M769.7 847.1h0M770.1 848.6h0M769.7 850.5h0M770.0 851.8h0M769.9 853.5h0M770.1 855.0h0M769.8 856.2h0M770.4 857.8h0M770.3 859.7h0M769.8 861.4h0M770.4 862.8h0M769.8 864.7h0M770.0 865.9h0M769.9 867.8h0M770.2 869.3h0M769.8 871.4h0M769.9 872.6h0M770.2 874.2h0M770.3 875.6h0M770.0 877.6h0M770.4 879.0h0M770.3 880.5h0M773.3 848.1h0M773.3 850.0h0M773.5 852.2h0M773.3 853.6h0M773.7 855.2h0M773.2 857.3h0M773.3 858.9h0M773.2 861.1h0M773.1 862.4h0M773.9 864.0h0M773.7 866.0h0M773.9 868.2h0M773.2 869.8h0M773.7 871.9h0M773.7 873.1h0M773.4 874.7h0M773.2 876.2h0M773.3 877.4h0M777.4 851.6h0M777.4 852.9h0M776.9 854.3h0M777.3 856.3h0M776.6 858.0h0M776.9 859.6h0M776.8 861.8h0M777.4 863.3h0M777.0 864.6h0M777.3 866.6h0M776.6 867.8h0M777.4 869.1h0M777.3 870.5h0M776.9 872.6h0M777.4 874.1h0M776.8 875.9h0M776.9 877.8h0M776.6 879.3h0M789.1 852.8h0M789.1 854.6h0M788.5 855.8h0M789.2 857.5h0M788.6 859.6h0M788.7 861.1h0M789.1 862.8h0M789.0 864.2h0M789.0 866.1h0M788.8 868.1h0M788.6 869.6h0M789.0 871.2h0M788.5 872.5h0M788.5 874.4h0M788.3 875.7h0M788.6 877.4h0M789.1 879.6h0M788.5 881.8h0M791.9 866.8h0M792.5 868.5h0M792.0 870.2h0M792.4 871.8h0M792.5 873.7h0M792.4 875.7h0M792.6 877.0h0M792.3 878.5h0M792.5 880.1h0M792.0 881.5h0M794.9 859.8h0M795.3 861.9h0M795.1 863.4h0M795.2 865.6h0M795.5 867.0h0M795.6 868.9h0M795.2 870.2h0M795.5 872.2h0M794.8 874.3h0M794.9 875.8h0M795.6 877.2h0M795.6 879.0h0M795.5 880.6h0M797.9 855.1h0M798.5 857.1h0M798.2 858.4h0M797.9 860.2h0M797.8 861.8h0M797.9 863.2h0M798.3 865.0h0M797.7 866.4h0M798.3 867.9h0M798.0 869.3h0M798.4 870.7h0M797.7 872.4h0M798.0 873.8h0M798.3 875.5h0M797.8 876.8h0M798.0 878.7h0M805.0 831.7h0M805.0 833.8h0M805.0 835.6h0M805.5 837.2h0M805.0 839.4h0M805.4 840.8h0M804.7 842.2h0M805.1 844.3h0M805.1 846.3h0M805.1 848.4h0M804.7 849.8h0M805.3 851.5h0M804.8 853.6h0M805.0 855.5h0M804.8 857.2h0M805.2 858.6h0M804.8 860.8h0M805.4 862.5h0M804.9 864.6h0M805.6 866.0h0M805.1 868.1h0M805.5 869.4h0M805.5 871.0h0M805.4 872.8h0M805.4 874.1h0M805.1 875.6h0M805.5 877.6h0M804.9 879.0h0M805.2 880.6h0M804.8 882.2h0M805.4 883.6h0M804.7 885.7h0M805.4 887.5h0M805.5 888.7h0M805.2 890.0h0M808.2 834.0h0M808.0 835.5h0M808.0 837.3h0M808.0 839.2h0M807.7 840.8h0M808.1 842.6h0M808.3 844.1h0M808.0 846.0h0M808.1 847.4h0M807.8 848.7h0M807.7 850.3h0M808.1 852.0h0M808.2 853.2h0M808.3 854.5h0M808.1 856.5h0M808.1 857.7h0M808.5 859.3h0M808.4 860.7h0M808.3 862.9h0M807.8 864.9h0M808.1 867.1h0M808.5 869.2h0M808.3 870.6h0M807.7 872.7h0M808.3 874.3h0M808.4 875.6h0M808.4 877.1h0M808.1 878.4h0M807.8 880.6h0M808.1 882.0h0M807.7 883.5h0M807.8 884.9h0M808.2 887.1h0M810.1 836.4h0M810.1 838.3h0M810.6 840.1h0M810.8 841.6h0M810.5 843.4h0M810.1 845.5h0M810.5 847.7h0M810.7 849.3h0M810.9 850.7h0M810.3 852.5h0M810.4 854.5h0M810.6 855.8h0M810.7 857.1h0M810.6 858.5h0M810.5 860.7h0M810.3 862.6h0M810.0 863.8h0M810.5 865.1h0M810.4 866.8h0M810.1 868.9h0M810.6 870.3h0M810.0 871.5h0M810.1 873.1h0M810.2 874.6h0M810.5 876.4h0M810.5 877.8h0M810.1 879.5h0M814.3 869.2h0M814.2 870.5h0M814.9 872.4h0M814.4 874.3h0M814.1 875.8h0M814.6 877.6h0M814.7 879.2h0M814.9 880.8h0M814.3 882.8h0M817.6 859.8h0M818.0 861.5h0M817.6 863.0h0M817.6 864.9h0M818.4 866.7h0M817.8 868.0h0M818.1 869.8h0M818.3 871.7h0M817.9 873.1h0M817.6 874.6h0M818.3 876.6h0M817.6 878.6h0M818.3 880.6h0M818.3 882.3h0M817.8 883.9h0M817.8 885.2h0M817.9 886.5h0M821.2 862.1h0M821.2 864.2h0M821.0 865.6h0M821.2 867.3h0M820.8 869.0h0M821.4 870.9h0M821.3 872.3h0M820.8 873.5h0M821.2 874.9h0M821.2 877.1h0M821.3 878.6h0M820.7 880.1h0M821.1 882.2h0M821.1 884.1h0M824.5 864.5h0M824.7 866.5h0M824.4 868.6h0M824.6 870.5h0M824.2 872.0h0M824.1 873.8h0M824.2 875.9h0M824.1 877.2h0M824.4 879.3h0M824.1 880.6h0M824.7 881.9h0M827.6 866.8h0M827.0 868.8h0M827.3 870.6h0M827.7 872.6h0M827.0 874.7h0M827.8 876.7h0M827.1 878.9h0M827.1 880.3h0M830.7 868.0h0M830.5 870.0h0M830.5 872.0h0M830.0 873.5h0M830.6 874.8h0M830.2 876.2h0M829.9 877.8h0M830.2 879.3h0M833.7 866.8h0M834.3 868.3h0M834.2 870.0h0M833.4 871.9h0M833.8 873.5h0M833.7 875.5h0M833.9 877.4h0M834.2 878.8h0M834.2 880.1h0M836.3 832.8h0M837.0 834.2h0M836.4 836.4h0M836.8 838.1h0M836.5 840.1h0M836.7 841.8h0M836.6 843.8h0M836.6 846.0h0M837.0 847.4h0M836.4 849.1h0M836.4 850.9h0M837.0 852.9h0M836.9 854.9h0M836.7 856.5h0M837.1 858.1h0M837.1 859.3h0M836.5 860.6h0M837.2 862.0h0M836.7 863.7h0M836.6 865.8h0M836.8 867.5h0M837.0 869.4h0M836.7 871.3h0M836.5 872.8h0M836.9 874.8h0M836.5 876.8h0M837.0 878.4h0M836.5 880.2h0M837.1 881.9h0M850.6 853.9h0M851.0 855.4h0M850.5 857.5h0M850.6 858.8h0M850.9 860.4h0M850.7 861.7h0M851.3 863.1h0M850.5 865.0h0M850.5 867.2h0M851.3 868.8h0M851.1 870.8h0M850.6 872.4h0M850.5 874.3h0M850.8 875.7h0M850.8 876.9h0M851.0 878.9h0M851.0 880.6h0M853.5 834.0h0M853.7 835.8h0M854.2 837.8h0M853.9 839.4h0M853.7 841.3h0M854.0 842.8h0M854.0 844.8h0M854.1 846.7h0M853.9 848.6h0M853.6 850.3h0M853.4 852.1h0M854.0 853.7h0M853.9 855.6h0M853.7 857.1h0M853.9 858.7h0M853.9 860.4h0M853.5 862.5h0M854.0 864.3h0M853.8 865.9h0M853.4 868.1h0M853.5 869.8h0M854.2 871.8h0M853.4 873.5h0M853.8 875.3h0M853.8 877.2h0M854.1 879.1h0M853.7 880.8h0M856.5 848.1h0M856.6 850.0h0M856.4 851.9h0M856.6 854.1h0M856.5 855.4h0M856.3 857.0h0M856.6 858.6h0M856.6 860.5h0M856.5 861.9h0M857.1 863.9h0M856.5 865.6h0M856.6 867.6h0M856.4 869.0h0M857.0 871.0h0M856.7 872.8h0M856.5 874.6h0M856.6 876.8h0M857.0 878.6h0M856.7 880.6h0M859.7 846.9h0M859.9 848.2h0M860.0 849.8h0M859.5 851.3h0M859.6 852.7h0M859.2 854.1h0M859.5 856.0h0M859.5 857.5h0M859.6 859.1h0M859.8 861.0h0M860.0 862.5h0M859.2 864.6h0M860.0 866.6h0M859.3 868.6h0M859.8 870.6h0M859.2 871.8h0M859.8 874.0h0M859.3 875.5h0M859.4 876.8h0M859.5 878.8h0M860.0 880.1h0M863.5 859.8h0M863.8 861.9h0M863.9 863.9h0M864.0 866.0h0M863.5 868.0h0M863.8 869.9h0M863.7 871.8h0M863.8 873.9h0M863.5 875.4h0M863.7 876.7h0M863.7 878.0h0M867.3 853.9h0M867.3 855.6h0M866.8 857.7h0M867.2 859.7h0M867.4 861.5h0M867.2 863.5h0M867.7 865.2h0M867.4 866.4h0M866.8 868.3h0M867.4 870.1h0M867.1 872.2h0M867.3 874.4h0M867.6 876.1h0M867.5 877.3h0M867.1 879.1h0M870.7 851.6h0M870.8 853.3h0M870.5 855.2h0M870.7 856.9h0M871.1 858.6h0M871.1 860.1h0M870.8 861.7h0M870.8 863.2h0M870.9 865.4h0M870.6 867.4h0M870.6 868.9h0M870.9 870.7h0M870.4 872.6h0M871.1 874.6h0M870.4 876.3h0M870.3 877.8h0M871.2 879.2h0M870.9 881.0h0M871.2 883.0h0M874.4 852.8h0M874.5 854.6h0M874.5 856.4h0M874.4 857.8h0M874.5 859.5h0M874.0 860.8h0M874.5 862.0h0M874.4 864.1h0M874.6 865.7h0M874.4 867.7h0M874.1 869.1h0M874.1 870.7h0M874.4 872.4h0M873.9 874.5h0M873.9 876.3h0M874.6 877.6h0M874.7 879.4h0M876.8 866.8h0M877.3 868.4h0M877.7 870.5h0M877.1 872.2h0M877.4 873.5h0M876.9 874.9h0M876.8 876.2h0M876.9 878.0h0M876.9 880.2h0M876.9 882.3h0M886.2 873.9h0M886.2 875.3h0M885.6 876.7h0M886.2 878.7h0M886.2 880.7h0M886.1 882.0h0M886.0 883.9h0M889.3 876.2h0M889.7 878.4h0M889.1 879.6h0M886.7 873.9h0M886.3 875.1h0M886.1 877.1h0M886.4 879.1h0M886.3 880.4h0M886.4 882.2h0M886.1 884.0h0M898.6 870.3h0M898.9 872.2h0M898.6 873.8h0M899.2 875.8h0M898.8 877.8h0M898.4 879.3h0M898.9 881.4h0M898.6 883.5h0M899.2 885.3h0M898.8 887.3h0M898.7 888.8h0M898.6 890.9h0M898.8 892.8h0M902.0 869.2h0M901.2 870.7h0M901.6 872.1h0M902.0 873.9h0M901.3 876.0h0M902.0 878.0h0M901.7 880.1h0M902.0 881.6h0M901.8 883.6h0M904.5 870.3h0M904.7 871.6h0M904.3 873.6h0M905.0 875.6h0M904.7 877.0h0M904.6 878.9h0M904.4 880.3h0M904.9 882.2h0M904.2 883.9h0M911.9 869.2h0M911.7 870.6h0M912.0 872.7h0M911.6 874.4h0M911.4 876.2h0M911.4 877.6h0M911.5 879.5h0M914.8 858.6h0M914.6 860.3h0M915.4 861.6h0M914.6 863.2h0M915.2 865.0h0M915.0 866.3h0M914.9 867.9h0M914.5 869.1h0M915.3 871.3h0M915.0 873.0h0M915.2 874.5h0M915.3 876.1h0M915.2 878.0h0M914.7 880.2h0M914.7 881.4h0M914.5 882.8h0M915.0 884.1h0M914.9 886.1h0M915.3 888.3h0M915.0 889.6h0M914.6 891.2h0M918.5 866.8h0M918.8 868.6h0M918.8 870.7h0M918.6 872.3h0M919.1 873.7h0M918.4 875.9h0M918.5 877.1h0M919.0 878.7h0M919.0 880.8h0M918.9 882.0h0M918.8 883.9h0M918.3 886.1h0M918.9 887.5h0M921.8 871.5h0M921.7 873.0h0M921.2 875.0h0M921.4 876.5h0M921.6 877.8h0M921.4 879.2h0M921.8 880.5h0M925.3 871.5h0M924.7 872.9h0M924.9 875.0h0M925.4 877.2h0M924.8 879.3h0M934.1 872.7h0M934.8 874.8h0M934.4 876.6h0M934.8 878.2h0M934.6 879.9h0M934.2 881.2h0M937.6 870.3h0M937.1 872.1h0M937.2 874.2h0M937.1 875.8h0M937.7 877.2h0M937.1 878.8h0M937.3 880.5h0M940.0 865.7h0M940.0 867.8h0M940.5 869.9h0M940.3 871.3h0M940.1 872.8h0M940.2 874.2h0M940.8 876.4h0M940.0 878.5h0M943.6 859.8h0M943.5 861.1h0M943.7 862.5h0M943.6 863.8h0M943.0 865.3h0M943.6 866.5h0M943.0 868.2h0M943.7 869.9h0M943.3 871.3h0M943.0 872.6h0M943.5 874.6h0M942.9 876.0h0M946.3 856.3h0M946.0 858.0h0M946.3 859.4h0M946.5 861.3h0M945.9 863.1h0M946.4 864.3h0M946.4 865.9h0M946.5 867.2h0M946.5 868.7h0M946.2 870.8h0M946.6 872.0h0M946.5 873.7h0M947.5 858.6h0M947.6 860.7h0M947.6 862.0h0M947.3 863.8h0M947.7 865.5h0M947.4 867.2h0M948.0 869.2h0M947.6 871.2h0M947.6 873.1h0M660.8 829.4h0M674.3 834.6h0M685.7 834.3h0M680.7 841.1h0M684.0 841.1h0M685.2 846.4h0M685.2 848.7h0M685.2 850.7h0M691.8 848.7h0M654.5 854.0h0M654.5 859.3h0M670.5 861.6h0M675.5 861.6h0M703.0 853.4h0M701.6 861.0h0M701.6 863.9h0M715.3 832.9h0M721.7 845.8h0M721.5 851.1h0M721.5 854.0h0M732.6 828.6h0M736.5 852.8h0M736.5 858.1h0M736.5 861.0h0M743.8 863.9h0M747.3 854.6h0M749.8 831.7h0M749.8 835.2h0M749.8 838.8h0M749.8 842.3h0M749.8 845.8h0M753.7 849.3h0M758.8 839.9h0M763.7 844.0h0M767.8 834.6h0M768.9 847.0h0M721.5 887.7h0M678.1 902.4h0M752.5 888.0h0M752.5 895.0h0M742.6 897.7h0M767.8 895.0h0M767.2 903.8h0M767.2 912.6h0M670.9 891.5h0M678.1 890.3h0M772.9 821.4h0M777.3 829.3h0M777.3 835.2h0M777.3 839.8h0M775.9 843.9h0M798.1 835.7h0M797.5 841.0h0M836.8 801.8h0M836.8 817.8h0M809.3 809.1h0M814.3 814.3h0M814.3 823.4h0M816.9 825.0h0M824.5 834.8h0M818.0 835.2h0M818.0 841.0h0M824.5 847.8h0M818.0 849.2h0M814.3 856.2h0M819.2 856.2h0M818.0 894.9h0M818.0 897.3h0M819.2 902.3h0M830.4 889.4h0M845.0 828.5h0M845.0 864.5h0M845.0 868.0h0M859.3 801.2h0M871.7 802.3h0M871.7 804.1h0M859.3 811.7h0M856.5 825.4h0M869.0 821.7h0M871.7 822.3h0M869.0 828.7h0M871.7 834.0h0M859.3 831.1h0M856.1 832.8h0M856.1 841.6h0M866.7 838.7h0M869.0 841.0h0M871.7 843.9h0M850.9 845.1h0M850.9 847.5h0M882.7 827.5h0M882.7 834.0h0M882.7 839.8h0M882.7 858.0h0M886.6 867.4h0M870.5 892.6h0M870.5 883.8h0M875.5 852.7h0M770.0 889.6h0M770.0 893.8h0M919.8 800.6h0M948.6 800.0h0M882.9 827.8h0M882.9 834.0h0M882.9 836.3h0M882.9 839.8h0M882.9 858.2h0M886.4 867.4h0M902.9 826.0h0M901.3 834.6h0M901.3 836.3h0M898.8 843.6h0M897.8 849.8h0M899.3 850.6h0M901.7 857.7h0M898.8 860.4h0M897.6 866.2h0M901.3 865.6h0M911.4 816.4h0M914.9 818.8h0M921.2 818.2h0M921.2 819.3h0M915.2 831.6h0M911.4 834.0h0M919.8 834.2h0M914.9 839.0h0M921.2 838.7h0M921.2 841.0h0M921.2 843.9h0M914.9 848.0h0M911.4 851.6h0M914.9 851.6h0M921.2 854.5h0M926.3 852.1h0M918.7 856.8h0M919.8 859.2h0M926.3 860.9h0M926.3 864.5h0M926.3 866.8h0M934.8 864.8h0M946.0 816.2h0M948.6 820.5h0M948.6 824.0h0M944.7 827.5h0M944.7 829.1h0M944.7 842.2h0M944.7 845.1h0M944.7 847.5h0M946.0 854.1h0M905.0 893.8h0M900.2 894.3h0M777.2 576.6h0M660.6 670.9h0M758.7 685.9h0M777.2 694.4h0M798.3 690.5h0M802.1 703.7h0M660.6 711.6h0M749.9 711.9h0M749.9 715.2h0M777.2 719.8h0M660.6 725.1h0M777.2 729.2h0M660.6 746.2h0M749.9 745.9h0M715.4 757.1h0M777.2 756.2h0M775.7 765.3h0M777.2 766.7h0M749.9 774.0h0M660.6 780.5h0M777.2 780.5h0M656.8 785.5h0M732.6 783.4h0M749.9 787.8h0M715.4 792.2h0M768.7 795.7h0M654.4 800.4h0M685.5 806.3h0M809.4 809.2h0M715.4 813.6h0M814.4 814.2h0M758.7 815.6h0M763.7 818.6h0M772.5 821.5h0M814.4 823.8h0M817.0 825.0h0M849.0 531.5h0M948.6 618.5h0M948.6 621.4h0M901.4 632.2h0M849.0 641.0h0M882.7 651.3h0M948.6 668.0h0M871.5 672.7h0M871.5 673.6h0M901.4 694.9h0M856.6 700.2h0M917.5 701.4h0M917.5 709.3h0M917.5 721.6h0M835.5 723.1h0M866.8 733.0h0M901.4 737.4h0M919.0 739.5h0M948.6 745.3h0M948.6 748.3h0M913.7 748.0h0M878.0 750.6h0M919.0 753.2h0M882.7 756.2h0M921.3 756.2h0M917.5 761.4h0M921.3 762.3h0M948.6 773.2h0M919.9 778.4h0M924.8 783.1h0M948.6 789.0h0M851.9 791.9h0M856.6 794.0h0M871.5 796.9h0M948.6 798.9h0M919.9 799.8h0M859.2 800.7h0M837.0 801.9h0M871.5 803.3h0M810.0 809.2h0M859.2 811.8h0M814.4 814.2h0M911.7 816.2h0M837.0 817.7h0M767.7 970.6h0M768.4 912.1h0" fill="none" stroke="#0a4fe8" stroke-width="4.6" stroke-linecap="round"/>
<path d="M131.04 477.79L131.75 477.76L132.46 477.73L133.18 477.69L133.89 477.66L134.61 477.62L135.32 477.59L136.03 477.55L136.75 477.51L137.46 477.47L138.17 477.44L138.89 477.40L139.60 477.36L140.31 477.32L141.03 477.27L141.74 477.23L142.46 477.19L143.17 477.15L143.88 477.10L144.60 477.05L145.31 477.01L146.02 476.96L146.74 476.91L147.45 476.86L148.16 476.81L148.88 476.76L149.59 476.71L150.31 476.66L151.02 476.60L151.73 476.55L152.45 476.49L153.16 476.43L153.87 476.37L154.59 476.31L155.30 476.25L156.01 476.19L156.73 476.13L157.44 476.06L158.16 476.00L158.87 475.93L159.58 475.86L160.30 475.79L161.01 475.72L161.72 475.65L162.44 475.57L163.15 475.49L163.86 475.42L164.58 475.34L165.29 475.26L166.01 475.17L166.72 475.09L167.43 475.00L168.15 474.91L168.86 474.82L169.57 474.73L170.29 474.64L171.00 474.54L171.71 474.44L172.43 474.34L173.14 474.24L173.86 474.13L174.57 474.03L175.28 473.92L176.00 473.81L176.71 473.69L177.42 473.57L178.14 473.45L178.85 473.33L179.56 473.21L180.28 473.08L180.99 472.95L181.71 472.82L182.42 472.68L183.13 472.54L183.85 472.40L184.56 472.25L185.27 472.10L185.99 471.95L186.70 471.79L187.41 471.63L188.13 471.46L188.84 471.30L189.56 471.12L190.27 470.95L190.98 470.77L191.70 470.58L192.41 470.39L193.12 470.20L193.84 470.00L194.55 469.80L195.26 469.59L195.98 469.37L196.69 469.16L197.41 468.93L198.12 468.70L198.83 468.47L199.55 468.23L200.26 467.98L200.97 467.72L201.69 467.46L202.40 467.20L203.11 466.93L203.83 466.65L204.54 466.36L205.26 466.06L205.97 465.76L206.68 465.45L207.40 465.14L208.11 464.81L208.82 464.47L209.54 464.13L210.25 463.78L210.96 463.42L211.68 463.05L212.39 462.67L213.10 462.28L213.82 461.88L214.53 461.46L215.25 461.04L215.96 460.61L216.67 460.16L217.39 459.71L218.10 459.24L218.81 458.75L219.53 458.26L220.24 457.75L220.95 457.22L221.67 456.69L222.38 456.13L223.10 455.57L223.81 454.98L224.52 454.39L225.24 453.77L225.95 453.14L226.66 452.49L227.38 451.82L228.09 451.13L228.80 450.42L229.52 449.70L230.23 448.95L230.95 448.18L231.66 447.39L232.37 446.58L233.09 445.74L233.80 444.88L234.51 444.00L235.23 443.09L235.94 442.15L236.65 441.19L237.37 440.20L238.08 439.18L238.80 438.14L239.51 437.06L240.22 435.95L240.94 434.81L241.65 433.64L242.36 432.43L243.08 431.19L243.79 429.91L244.50 428.60L245.22 427.24L245.93 425.85L246.65 424.42L247.36 422.95L248.07 421.43L248.79 419.87L249.50 418.27L250.21 416.62L250.93 414.92L251.64 413.18L252.35 411.38L253.07 409.54L253.78 407.64L254.50 405.69L255.21 403.68L255.92 401.62L256.64 399.50L257.35 397.32L258.06 395.08L258.78 392.78L259.49 390.42L260.20 387.99L260.92 385.50L261.63 382.94L262.35 380.31L263.06 377.61L263.77 374.84L264.49 372.01L265.20 369.09L265.91 366.11L266.63 363.05L267.34 359.92L268.05 356.71L268.77 353.42L269.48 350.06L270.20 346.62L270.91 343.10L271.62 339.51L272.34 335.84L273.05 332.09L273.76 328.26L274.48 324.36L275.19 320.38L275.90 316.33L276.62 312.21L277.33 308.01L278.05 303.75L278.76 299.42L279.47 295.03L280.19 290.58L280.90 286.08L281.61 281.52L282.33 276.91L283.04 272.26L283.75 267.57L284.47 262.84L285.18 258.10L285.90 253.33L286.61 248.55L287.32 243.76L288.04 238.98L288.75 234.21L289.46 229.45L290.18 224.73L290.89 220.05L291.60 215.42L292.32 210.85L293.03 206.35L293.75 201.94L294.46 197.62L295.17 193.41L295.89 189.32L296.60 185.35L297.31 181.53L298.03 177.87L298.74 174.37L299.45 171.06L300.17 167.93L300.88 165.00L301.60 162.29L302.31 159.80L303.02 157.53L303.74 155.51L304.45 153.74L305.16 152.22L305.88 150.96L306.59 149.96L307.30 149.24L308.02 148.79L308.73 148.61L309.45 148.71L310.16 149.08L310.87 149.73L311.59 150.64L312.30 151.83L313.01 153.27L313.73 154.97L314.44 156.92L315.15 159.12L315.87 161.54L316.58 164.20L317.30 167.06L318.01 170.13L318.72 173.40L319.44 176.84L320.15 180.46L320.86 184.23L321.58 188.16L322.29 192.21L323.00 196.39L323.72 200.68L324.43 205.07L325.15 209.54L325.86 214.09L326.57 218.71L327.29 223.37L328.00 228.08L328.71 232.83L329.43 237.60L330.14 242.38L330.85 247.16L331.57 251.95L332.28 256.72L333.00 261.47L333.71 266.20L334.42 270.90L335.14 275.57L335.85 280.19L336.56 284.76L337.28 289.29L337.99 293.75L338.70 298.16L339.42 302.51L340.13 306.79L340.84 311.00L341.56 315.14L342.27 319.22L342.99 323.21L343.70 327.14L344.41 330.99L345.13 334.76L345.84 338.45L346.55 342.07L347.27 345.61L347.98 349.07L348.69 352.46L349.41 355.77L350.12 359.00L350.84 362.15L351.55 365.23L352.26 368.24L352.98 371.17L353.69 374.03L354.40 376.82L355.12 379.54L355.83 382.18L356.54 384.76L357.26 387.27L357.97 389.72L358.69 392.10L359.40 394.42L360.11 396.68L360.83 398.88L361.54 401.01L362.25 403.09L362.97 405.11L363.68 407.08L364.39 409.00L365.11 410.86L365.82 412.67L366.54 414.42L367.25 416.14L367.96 417.80L368.68 419.42L369.39 420.99L370.10 422.51L370.82 424.00L371.53 425.44L372.24 426.85L372.96 428.21L373.67 429.53L374.39 430.82L375.10 432.08L375.81 433.29L376.53 434.47L377.24 435.62L377.95 436.74L378.67 437.83L379.38 438.88L380.09 439.91L380.81 440.91L381.52 441.88L382.24 442.82L382.95 443.74L383.66 444.63L384.38 445.50L385.09 446.34L385.80 447.16L386.52 447.95L387.23 448.73L387.94 449.48L388.66 450.21L389.37 450.93L390.09 451.62L390.80 452.29L391.51 452.95L392.23 453.59L392.94 454.21L393.65 454.81L394.37 455.40L395.08 455.97L395.79 456.53L396.51 457.07L397.22 457.60L397.94 458.11L398.65 458.61L399.36 459.10L400.08 459.57L400.79 460.03L401.50 460.48L402.22 460.92L402.93 461.34L403.64 461.76L404.36 462.16L405.07 462.56L405.79 462.94L406.50 463.31L407.21 463.68L407.93 464.03L408.64 464.38L409.35 464.71L410.07 465.04L410.78 465.36L411.49 465.67L412.21 465.98L412.92 466.27L413.64 466.56L414.35 466.85L415.06 467.12L415.78 467.39L416.49 467.65L417.20 467.91L417.92 468.15L418.63 468.40L419.34 468.63L420.06 468.87L420.77 469.09L421.49 469.31L422.20 469.53L422.91 469.74L423.63 469.94L424.34 470.14L425.05 470.34L425.77 470.53L426.48 470.71L427.19 470.89L427.91 471.07L428.62 471.25L429.34 471.42L430.05 471.58L430.76 471.74L431.48 471.90L432.19 472.05L432.90 472.21L433.62 472.35L434.33 472.50L435.04 472.64L435.76 472.78L436.47 472.91L437.19 473.04L437.90 473.17L438.61 473.30L439.33 473.42L440.04 473.54L440.75 473.66L441.47 473.77L442.18 473.89L442.89 474.00L443.61 474.10L444.32 474.21L445.04 474.31L445.75 474.41L446.46 474.51L447.18 474.61L447.89 474.70L448.60 474.80L449.32 474.89L450.03 474.98L450.74 475.06L451.46 475.15L452.17 475.23L452.89 475.31L453.60 475.39L454.31 475.47L455.03 475.55L455.74 475.62L456.45 475.70L457.17 475.77L457.88 475.84L458.59 475.91L459.31 475.98L460.02 476.04L460.74 476.11L461.45 476.17L462.16 476.24L462.88 476.30L463.59 476.36L464.30 476.42L465.02 476.47L465.73 476.53L466.44 476.59L467.16 476.64L467.87 476.69L468.58 476.75L469.30 476.80L470.01 476.85L470.73 476.90L471.44 476.95L472.15 476.99L472.87 477.04L473.58 477.09L474.29 477.13L475.01 477.18L475.72 477.22L476.43 477.26L477.15 477.30L477.86 477.35L478.58 477.39L479.29 477.42L480.00 477.46L480.72 477.50L481.43 477.54L482.14 477.58L482.86 477.61L483.57 477.65L484.28 477.68L485.00 477.72L485.71 477.75L486.43 477.78L487.14 477.81" fill="none" stroke="#000" stroke-width="3.1" stroke-dasharray="4.25 2.84" clip-path="url(#cTL)"/>
<path d="M626.60 423.10L627.35 423.10L628.09 423.10L628.84 423.09L629.58 423.09L630.33 423.09L631.08 423.08L631.82 423.08L632.57 423.08L633.32 423.07L634.06 423.07L634.81 423.07L635.56 423.06L636.30 423.06L637.05 423.06L637.79 423.05L638.54 423.05L639.29 423.04L640.03 423.04L640.78 423.03L641.53 423.03L642.27 423.03L643.02 423.02L643.76 423.02L644.51 423.01L645.26 423.01L646.00 423.00L646.75 423.00L647.50 422.99L648.24 422.99L648.99 422.98L649.74 422.98L650.48 422.97L651.23 422.97L651.97 422.96L652.72 422.95L653.47 422.95L654.21 422.94L654.96 422.94L655.71 422.93L656.45 422.92L657.20 422.92L657.94 422.91L658.69 422.90L659.44 422.90L660.18 422.89L660.93 422.88L661.68 422.87L662.42 422.87L663.17 422.86L663.91 422.85L664.66 422.84L665.41 422.83L666.15 422.83L666.90 422.82L667.65 422.81L668.39 422.80L669.14 422.79L669.89 422.78L670.63 422.77L671.38 422.76L672.12 422.75L672.87 422.74L673.62 422.73L674.36 422.72L675.11 422.71L675.86 422.70L676.60 422.69L677.35 422.67L678.09 422.66L678.84 422.65L679.59 422.64L680.33 422.62L681.08 422.61L681.83 422.60L682.57 422.58L683.32 422.57L684.07 422.56L684.81 422.54L685.56 422.53L686.30 422.51L687.05 422.49L687.80 422.48L688.54 422.46L689.29 422.44L690.04 422.43L690.78 422.41L691.53 422.39L692.27 422.37L693.02 422.35L693.77 422.33L694.51 422.31L695.26 422.29L696.01 422.27L696.75 422.25L697.50 422.23L698.25 422.21L698.99 422.18L699.74 422.16L700.48 422.13L701.23 422.11L701.98 422.08L702.72 422.06L703.47 422.03L704.22 422.00L704.96 421.98L705.71 421.95L706.45 421.92L707.20 421.89L707.95 421.85L708.69 421.82L709.44 421.79L710.19 421.76L710.93 421.72L711.68 421.68L712.42 421.65L713.17 421.61L713.92 421.57L714.66 421.53L715.41 421.49L716.16 421.45L716.90 421.41L717.65 421.36L718.40 421.32L719.14 421.27L719.89 421.22L720.63 421.17L721.38 421.12L722.13 421.07L722.87 421.02L723.62 420.96L724.37 420.91L725.11 420.85L725.86 420.79L726.60 420.73L727.35 420.67L728.10 420.60L728.84 420.54L729.59 420.47L730.34 420.40L731.08 420.33L731.83 420.25L732.58 420.17L733.32 420.10L734.07 420.02L734.81 419.93L735.56 419.85L736.31 419.76L737.05 419.67L737.80 419.58L738.55 419.48L739.29 419.38L740.04 419.28L740.78 419.18L741.53 419.07L742.28 418.96L743.02 418.85L743.77 418.73L744.52 418.61L745.26 418.49L746.01 418.36L746.76 418.23L747.50 418.10L748.25 417.96L748.99 417.82L749.74 417.67L750.49 417.52L751.23 417.36L751.98 417.20L752.73 417.04L753.47 416.87L754.22 416.70L754.96 416.52L755.71 416.34L756.46 416.15L757.20 415.96L757.95 415.76L758.70 415.55L759.44 415.34L760.19 415.13L760.94 414.91L761.68 414.68L762.43 414.44L763.17 414.20L763.92 413.96L764.67 413.70L765.41 413.44L766.16 413.18L766.91 412.90L767.65 412.62L768.40 412.34L769.14 412.04L769.89 411.74L770.64 411.43L771.38 411.12L772.13 410.80L772.88 410.47L773.62 410.13L774.37 409.78L775.11 409.43L775.86 409.07L776.61 408.71L777.35 408.33L778.10 407.95L778.85 407.57L779.59 407.17L780.34 406.77L781.09 406.37L781.83 405.96L782.58 405.54L783.32 405.11L784.07 404.69L784.82 404.25L785.56 403.82L786.31 403.38L787.06 402.93L787.80 402.49L788.55 402.04L789.29 401.59L790.04 401.14L790.79 400.70L791.53 400.25L792.28 399.80L793.03 399.36L793.77 398.92L794.52 398.48L795.27 398.06L796.01 397.63L796.76 397.22L797.50 396.81L798.25 396.42L799.00 396.04L799.74 395.66L800.49 395.31L801.24 394.96L801.98 394.63L802.73 394.32L803.47 394.03L804.22 393.75L804.97 393.50L805.71 393.27L806.46 393.05L807.21 392.86L807.95 392.70L808.70 392.55L809.45 392.44L810.19 392.34L810.94 392.27L811.68 392.23L812.43 392.22L813.18 392.22L813.92 392.26L814.67 392.32L815.42 392.41L816.16 392.52L816.91 392.65L817.65 392.81L818.40 393.00L819.15 393.20L819.89 393.43L820.64 393.68L821.39 393.95L822.13 394.24L822.88 394.54L823.62 394.86L824.37 395.20L825.12 395.56L825.86 395.93L826.61 396.31L827.36 396.70L828.10 397.10L828.85 397.51L829.60 397.93L830.34 398.36L831.09 398.79L831.83 399.23L832.58 399.67L833.33 400.12L834.07 400.57L834.82 401.01L835.57 401.46L836.31 401.91L837.06 402.36L837.80 402.81L838.55 403.25L839.30 403.69L840.04 404.13L840.79 404.56L841.54 404.99L842.28 405.42L843.03 405.83L843.78 406.25L844.52 406.66L845.27 407.06L846.01 407.45L846.76 407.84L847.51 408.22L848.25 408.60L849.00 408.97L849.75 409.33L850.49 409.68L851.24 410.03L851.98 410.37L852.73 410.70L853.48 411.03L854.22 411.34L854.97 411.65L855.72 411.96L856.46 412.25L857.21 412.54L857.96 412.82L858.70 413.10L859.45 413.37L860.19 413.63L860.94 413.88L861.69 414.13L862.43 414.37L863.18 414.61L863.93 414.84L864.67 415.06L865.42 415.28L866.16 415.49L866.91 415.70L867.66 415.90L868.40 416.09L869.15 416.28L869.90 416.47L870.64 416.65L871.39 416.82L872.14 416.99L872.88 417.16L873.63 417.32L874.37 417.47L875.12 417.63L875.87 417.77L876.61 417.92L877.36 418.06L878.11 418.19L878.85 418.32L879.60 418.45L880.34 418.58L881.09 418.70L881.84 418.81L882.58 418.93L883.33 419.04L884.08 419.15L884.82 419.25L885.57 419.35L886.31 419.45L887.06 419.55L887.81 419.64L888.55 419.73L889.30 419.82L890.05 419.91L890.79 419.99L891.54 420.07L892.29 420.15L893.03 420.23L893.78 420.30L894.52 420.38L895.27 420.45L896.02 420.52L896.76 420.58L897.51 420.65L898.26 420.71L899.00 420.77L899.75 420.83L900.49 420.89L901.24 420.95L901.99 421.00L902.73 421.06L903.48 421.11L904.23 421.16L904.97 421.21L905.72 421.26L906.47 421.30L907.21 421.35L907.96 421.39L908.70 421.44L909.45 421.48L910.20 421.52L910.94 421.56L911.69 421.60L912.44 421.64L913.18 421.67L913.93 421.71L914.67 421.75L915.42 421.78L916.17 421.81L916.91 421.85L917.66 421.88L918.41 421.91L919.15 421.94L919.90 421.97L920.65 422.00L921.39 422.02L922.14 422.05L922.88 422.08L923.63 422.10L924.38 422.13L925.12 422.15L925.87 422.18L926.62 422.20L927.36 422.22L928.11 422.24L928.85 422.27L929.60 422.29L930.35 422.31L931.09 422.33L931.84 422.35L932.59 422.37L933.33 422.39L934.08 422.40L934.82 422.42L935.57 422.44L936.32 422.46L937.06 422.47L937.81 422.49L938.56 422.51L939.30 422.52L940.05 422.54L940.80 422.55L941.54 422.57L942.29 422.58L943.03 422.59L943.78 422.61L944.53 422.62L945.27 422.63L946.02 422.65L946.77 422.66L947.51 422.67L948.26 422.68L949.00 422.69L949.75 422.70L950.50 422.72L951.24 422.73L951.99 422.74L952.74 422.75L953.48 422.76L954.23 422.77L954.98 422.78L955.72 422.79L956.47 422.80L957.21 422.81L957.96 422.81L958.71 422.82L959.45 422.83L960.20 422.84L960.95 422.85L961.69 422.86L962.44 422.86L963.18 422.87L963.93 422.88L964.68 422.89L965.42 422.89L966.17 422.90L966.92 422.91L967.66 422.91L968.41 422.92L969.16 422.93L969.90 422.93L970.65 422.94L971.39 422.95L972.14 422.95L972.89 422.96L973.63 422.96L974.38 422.97L975.13 422.97L975.87 422.98L976.62 422.99L977.36 422.99L978.11 423.00L978.86 423.00L979.60 423.01L980.35 423.01L981.10 423.02L981.84 423.02L982.59 423.02L983.34 423.03L984.08 423.03L984.83 423.04L985.57 423.04L986.32 423.05L987.07 423.05L987.81 423.05L988.56 423.06L989.31 423.06L990.05 423.07L990.80 423.07L991.54 423.07L992.29 423.08L993.04 423.08L993.78 423.08L994.53 423.09L995.28 423.09L996.02 423.09L996.77 423.10L997.51 423.10L998.26 423.10L999.01 423.11" fill="none" stroke="#000" stroke-width="3.1" stroke-dasharray="4.25 2.84" clip-path="url(#cTR)"/>
<path d="M193.99 969.78L194.09 969.75L194.19 969.71L194.29 969.68L194.39 969.64L194.49 969.61L194.59 969.57L194.69 969.53L194.79 969.50L194.89 969.46L194.99 969.42L195.09 969.38L195.19 969.34L195.29 969.30L195.39 969.25L195.49 969.21L195.59 969.17L195.69 969.12L195.79 969.07L195.89 969.03L195.99 968.98L196.09 968.93L196.19 968.88L196.29 968.83L196.39 968.78L196.49 968.73L196.59 968.68L196.69 968.62L196.79 968.57L196.89 968.51L196.99 968.45L197.09 968.39L197.19 968.33L197.29 968.27L197.39 968.21L197.49 968.14L197.59 968.08L197.69 968.01L197.79 967.95L197.89 967.88L197.99 967.81L198.09 967.73L198.19 967.66L198.29 967.59L198.39 967.51L198.49 967.43L198.59 967.35L198.69 967.27L198.79 967.19L198.89 967.10L198.99 967.02L199.09 966.93L199.19 966.84L199.29 966.75L199.39 966.65L199.49 966.55L199.59 966.46L199.69 966.36L199.79 966.25L199.89 966.15L199.99 966.04L200.09 965.93L200.19 965.82L200.29 965.71L200.39 965.59L200.49 965.47L200.59 965.35L200.69 965.22L200.79 965.09L200.89 964.96L200.99 964.83L201.09 964.69L201.19 964.55L201.29 964.41L201.39 964.26L201.49 964.11L201.59 963.96L201.69 963.80L201.79 963.64L201.89 963.48L201.99 963.31L202.09 963.14L202.19 962.96L202.29 962.78L202.38 962.60L202.48 962.41L202.58 962.21L202.68 962.01L202.78 961.81L202.88 961.60L202.98 961.39L203.08 961.17L203.18 960.95L203.28 960.72L203.38 960.48L203.48 960.24L203.58 960.00L203.68 959.74L203.78 959.49L203.88 959.22L203.98 958.95L204.08 958.67L204.18 958.38L204.28 958.09L204.38 957.79L204.48 957.48L204.58 957.16L204.68 956.84L204.78 956.50L204.88 956.16L204.98 955.81L205.08 955.45L205.18 955.08L205.28 954.70L205.38 954.31L205.48 953.91L205.58 953.50L205.68 953.08L205.78 952.65L205.88 952.21L205.98 951.75L206.08 951.28L206.18 950.80L206.28 950.31L206.38 949.80L206.48 949.28L206.58 948.75L206.68 948.20L206.78 947.63L206.88 947.05L206.98 946.45L207.08 945.84L207.18 945.21L207.28 944.56L207.38 943.90L207.48 943.21L207.58 942.51L207.68 941.79L207.78 941.04L207.88 940.28L207.98 939.49L208.08 938.69L208.18 937.86L208.28 937.00L208.38 936.12L208.48 935.22L208.58 934.29L208.68 933.33L208.78 932.35L208.88 931.33L208.98 930.29L209.08 929.22L209.18 928.12L209.28 926.99L209.38 925.82L209.48 924.62L209.58 923.39L209.68 922.12L209.78 920.81L209.88 919.46L209.98 918.08L210.08 916.66L210.18 915.19L210.28 913.69L210.38 912.14L210.48 910.54L210.58 908.90L210.68 907.22L210.78 905.48L210.88 903.70L210.98 901.86L211.08 899.97L211.18 898.03L211.28 896.03L211.38 893.98L211.48 891.87L211.58 889.70L211.68 887.48L211.78 885.19L211.88 882.83L211.98 880.41L212.08 877.93L212.18 875.38L212.28 872.76L212.38 870.07L212.48 867.32L212.58 864.49L212.68 861.58L212.78 858.61L212.88 855.55L212.98 852.42L213.08 849.22L213.18 845.94L213.28 842.58L213.38 839.14L213.48 835.62L213.58 832.02L213.68 828.34L213.78 824.59L213.88 820.75L213.98 816.84L214.08 812.85L214.18 808.78L214.28 804.64L214.38 800.42L214.48 796.13L214.58 791.77L214.68 787.35L214.78 782.86L214.88 778.30L214.98 773.69L215.08 769.03L215.18 764.32L215.28 759.56L215.38 754.76L215.48 749.93L215.58 745.07L215.68 740.20L215.78 735.31L215.88 730.41L215.98 725.52L216.08 720.64L216.18 715.78L216.28 710.95L216.38 706.16L216.48 701.43L216.58 696.75L216.68 692.15L216.78 687.64L216.88 683.22L216.98 678.91L217.08 674.73L217.18 670.67L217.28 666.77L217.38 663.02L217.48 659.44L217.58 656.05L217.68 652.85L217.78 649.86L217.88 647.08L217.98 644.53L218.08 642.22L218.18 640.15L218.28 638.34L218.38 636.78L218.48 635.49L218.58 634.48L218.68 633.73L218.78 633.27L218.88 633.09L218.98 633.19L219.08 633.57L219.18 634.23L219.28 635.17L219.38 636.38L219.48 637.86L219.58 639.60L219.68 641.59L219.78 643.84L219.88 646.32L219.98 649.03L220.08 651.96L220.18 655.10L220.28 658.44L220.38 661.97L220.48 665.67L220.58 669.53L220.68 673.54L220.78 677.69L220.88 681.96L220.98 686.35L221.08 690.84L221.18 695.41L221.28 700.07L221.38 704.79L221.48 709.56L221.58 714.38L221.68 719.23L221.78 724.11L221.88 729.00L221.98 733.89L222.08 738.78L222.18 743.67L222.28 748.53L222.38 753.37L222.48 758.18L222.58 762.94L222.68 767.67L222.78 772.35L222.88 776.98L222.98 781.54L223.08 786.05L223.18 790.50L223.28 794.88L223.38 799.19L223.48 803.42L223.58 807.59L223.68 811.68L223.78 815.69L223.88 819.63L223.98 823.49L224.08 827.27L224.18 830.96L224.28 834.59L224.38 838.13L224.48 841.59L224.58 844.97L224.68 848.28L224.78 851.51L224.88 854.66L224.98 857.73L225.08 860.73L225.18 863.65L225.28 866.50L225.38 869.28L225.48 871.99L225.58 874.63L225.68 877.20L225.78 879.70L225.88 882.14L225.98 884.51L226.08 886.82L226.18 889.07L226.28 891.25L226.38 893.38L226.48 895.45L226.58 897.46L226.68 899.42L226.78 901.32L226.88 903.17L226.98 904.97L227.08 906.72L227.18 908.42L227.28 910.07L227.38 911.68L227.48 913.24L227.58 914.76L227.68 916.24L227.78 917.67L227.88 919.07L227.98 920.42L228.08 921.74L228.18 923.02L228.28 924.27L228.38 925.48L228.48 926.65L228.58 927.80L228.68 928.91L228.78 929.99L228.88 931.04L228.98 932.06L229.08 933.05L229.18 934.01L229.28 934.95L229.38 935.86L229.48 936.75L229.58 937.61L229.68 938.45L229.78 939.26L229.88 940.06L229.98 940.83L230.08 941.58L230.18 942.30L230.28 943.01L230.38 943.70L230.48 944.37L230.58 945.03L230.68 945.66L230.78 946.28L230.88 946.88L230.98 947.46L231.08 948.03L231.18 948.59L231.28 949.13L231.38 949.65L231.48 950.16L231.58 950.66L231.68 951.15L231.78 951.62L231.88 952.08L231.98 952.52L232.08 952.96L232.18 953.38L232.28 953.80L232.38 954.20L232.48 954.59L232.58 954.97L232.68 955.34L232.78 955.71L232.88 956.06L232.98 956.41L233.08 956.74L233.18 957.07L233.28 957.39L233.38 957.70L233.48 958.00L233.58 958.30L233.68 958.59L233.78 958.87L233.88 959.14L233.98 959.41L234.08 959.67L234.18 959.92L234.28 960.17L234.38 960.42L234.48 960.65L234.58 960.88L234.68 961.11L234.78 961.33L234.88 961.54L234.98 961.75L235.08 961.96L235.18 962.16L235.28 962.35L235.38 962.54L235.48 962.73L235.58 962.91L235.68 963.09L235.78 963.26L235.88 963.43L235.98 963.59L236.08 963.76L236.18 963.91L236.28 964.07L236.38 964.22L236.48 964.37L236.58 964.51L236.68 964.65L236.78 964.79L236.88 964.92L236.98 965.06L237.08 965.18L237.18 965.31L237.28 965.43L237.38 965.55L237.48 965.67L237.58 965.79L237.68 965.90L237.78 966.01L237.88 966.12L237.98 966.22L238.08 966.33L238.18 966.43L238.28 966.53L238.38 966.62L238.48 966.72L238.58 966.81L238.68 966.90L238.78 966.99L238.88 967.08L238.98 967.16L239.08 967.25L239.18 967.33L239.28 967.41L239.38 967.49L239.48 967.56L239.58 967.64L239.68 967.71L239.78 967.79L239.88 967.86L239.98 967.93L240.08 967.99L240.18 968.06L240.28 968.13L240.38 968.19L240.48 968.25L240.58 968.31L240.68 968.38L240.78 968.43L240.88 968.49L240.98 968.55L241.08 968.60L241.18 968.66L241.28 968.71L241.38 968.77L241.48 968.82L241.58 968.87L241.68 968.92L241.78 968.97L241.88 969.01L241.98 969.06L242.08 969.11L242.18 969.15L242.28 969.20L242.38 969.24L242.48 969.28L242.58 969.33L242.68 969.37L242.78 969.41L242.88 969.45L242.98 969.49L243.08 969.52L243.18 969.56L243.28 969.60L243.38 969.63L243.48 969.67L243.58 969.70L243.68 969.74L243.78 969.77L243.88 969.81" fill="none" stroke="#000" stroke-width="3.1" stroke-dasharray="4.25 2.84" clip-path="url(#cBL)"/>
<path d="M692.28 879.48L692.39 879.48L692.49 879.48L692.60 879.48L692.70 879.47L692.81 879.47L692.91 879.47L693.02 879.47L693.12 879.47L693.23 879.47L693.33 879.47L693.43 879.47L693.54 879.46L693.64 879.46L693.75 879.46L693.85 879.46L693.96 879.46L694.06 879.46L694.17 879.46L694.27 879.46L694.38 879.45L694.48 879.45L694.59 879.45L694.69 879.45L694.80 879.45L694.90 879.45L695.01 879.45L695.11 879.44L695.22 879.44L695.32 879.44L695.43 879.44L695.53 879.44L695.63 879.43L695.74 879.43L695.84 879.43L695.95 879.43L696.05 879.43L696.16 879.43L696.26 879.42L696.37 879.42L696.47 879.42L696.58 879.42L696.68 879.41L696.79 879.41L696.89 879.41L697.00 879.41L697.10 879.41L697.21 879.40L697.31 879.40L697.42 879.40L697.52 879.40L697.63 879.39L697.73 879.39L697.83 879.39L697.94 879.38L698.04 879.38L698.15 879.38L698.25 879.38L698.36 879.37L698.46 879.37L698.57 879.37L698.67 879.36L698.78 879.36L698.88 879.36L698.99 879.35L699.09 879.35L699.20 879.34L699.30 879.34L699.41 879.34L699.51 879.33L699.62 879.33L699.72 879.33L699.83 879.32L699.93 879.32L700.03 879.31L700.14 879.31L700.24 879.30L700.35 879.30L700.45 879.29L700.56 879.29L700.66 879.28L700.77 879.28L700.87 879.27L700.98 879.27L701.08 879.26L701.19 879.26L701.29 879.25L701.40 879.24L701.50 879.24L701.61 879.23L701.71 879.23L701.82 879.22L701.92 879.21L702.03 879.21L702.13 879.20L702.23 879.19L702.34 879.18L702.44 879.18L702.55 879.17L702.65 879.16L702.76 879.15L702.86 879.14L702.97 879.14L703.07 879.13L703.18 879.12L703.28 879.11L703.39 879.10L703.49 879.09L703.60 879.08L703.70 879.07L703.81 879.06L703.91 879.05L704.02 879.04L704.12 879.02L704.23 879.01L704.33 879.00L704.43 878.99L704.54 878.98L704.64 878.96L704.75 878.95L704.85 878.94L704.96 878.92L705.06 878.91L705.17 878.89L705.27 878.88L705.38 878.86L705.48 878.85L705.59 878.83L705.69 878.81L705.80 878.79L705.90 878.78L706.01 878.76L706.11 878.74L706.22 878.72L706.32 878.70L706.43 878.68L706.53 878.66L706.63 878.64L706.74 878.61L706.84 878.59L706.95 878.57L707.05 878.54L707.16 878.52L707.26 878.49L707.37 878.47L707.47 878.44L707.58 878.41L707.68 878.38L707.79 878.35L707.89 878.32L708.00 878.29L708.10 878.26L708.21 878.23L708.31 878.19L708.42 878.16L708.52 878.12L708.63 878.08L708.73 878.04L708.83 878.01L708.94 877.96L709.04 877.92L709.15 877.88L709.25 877.84L709.36 877.79L709.46 877.74L709.57 877.70L709.67 877.65L709.78 877.60L709.88 877.54L709.99 877.49L710.09 877.44L710.20 877.38L710.30 877.32L710.41 877.26L710.51 877.20L710.62 877.14L710.72 877.07L710.83 877.00L710.93 876.93L711.03 876.86L711.14 876.79L711.24 876.72L711.35 876.64L711.45 876.56L711.56 876.48L711.66 876.40L711.77 876.31L711.87 876.22L711.98 876.13L712.08 876.04L712.19 875.95L712.29 875.85L712.40 875.75L712.50 875.65L712.61 875.55L712.71 875.44L712.82 875.33L712.92 875.22L713.03 875.11L713.13 875.00L713.24 874.88L713.34 874.76L713.44 874.64L713.55 874.51L713.65 874.38L713.76 874.26L713.86 874.12L713.97 873.99L714.07 873.86L714.18 873.72L714.28 873.58L714.39 873.44L714.49 873.30L714.60 873.16L714.70 873.01L714.81 872.87L714.91 872.72L715.02 872.57L715.12 872.43L715.23 872.28L715.33 872.13L715.44 871.98L715.54 871.84L715.64 871.69L715.75 871.55L715.85 871.41L715.96 871.27L716.06 871.13L716.17 870.99L716.27 870.86L716.38 870.73L716.48 870.60L716.59 870.48L716.69 870.36L716.80 870.25L716.90 870.14L717.01 870.04L717.11 869.95L717.22 869.86L717.32 869.77L717.43 869.70L717.53 869.63L717.64 869.56L717.74 869.51L717.84 869.46L717.95 869.42L718.05 869.39L718.16 869.37L718.26 869.36L718.37 869.35L718.47 869.35L718.58 869.37L718.68 869.39L718.79 869.41L718.89 869.45L719.00 869.50L719.10 869.55L719.21 869.61L719.31 869.68L719.42 869.75L719.52 869.83L719.63 869.92L719.73 870.01L719.84 870.11L719.94 870.22L720.04 870.33L720.15 870.45L720.25 870.57L720.36 870.69L720.46 870.82L720.57 870.95L720.67 871.09L720.78 871.23L720.88 871.37L720.99 871.51L721.09 871.65L721.20 871.80L721.30 871.94L721.41 872.09L721.51 872.24L721.62 872.38L721.72 872.53L721.83 872.68L721.93 872.82L722.04 872.97L722.14 873.11L722.24 873.26L722.35 873.40L722.45 873.54L722.56 873.68L722.66 873.82L722.77 873.95L722.87 874.09L722.98 874.22L723.08 874.35L723.19 874.47L723.29 874.60L723.40 874.72L723.50 874.84L723.61 874.96L723.71 875.08L723.82 875.19L723.92 875.30L724.03 875.41L724.13 875.52L724.24 875.62L724.34 875.72L724.44 875.82L724.55 875.92L724.65 876.02L724.76 876.11L724.86 876.20L724.97 876.29L725.07 876.37L725.18 876.46L725.28 876.54L725.39 876.62L725.49 876.69L725.60 876.77L725.70 876.84L725.81 876.91L725.91 876.98L726.02 877.05L726.12 877.12L726.23 877.18L726.33 877.24L726.44 877.30L726.54 877.36L726.64 877.42L726.75 877.47L726.85 877.53L726.96 877.58L727.06 877.63L727.17 877.68L727.27 877.73L727.38 877.78L727.48 877.82L727.59 877.87L727.69 877.91L727.80 877.95L727.90 877.99L728.01 878.03L728.11 878.07L728.22 878.11L728.32 878.15L728.43 878.18L728.53 878.22L728.64 878.25L728.74 878.28L728.84 878.31L728.95 878.34L729.05 878.37L729.16 878.40L729.26 878.43L729.37 878.46L729.47 878.48L729.58 878.51L729.68 878.54L729.79 878.56L729.89 878.58L730.00 878.61L730.10 878.63L730.21 878.65L730.31 878.67L730.42 878.69L730.52 878.71L730.63 878.73L730.73 878.75L730.84 878.77L730.94 878.79L731.04 878.81L731.15 878.82L731.25 878.84L731.36 878.86L731.46 878.87L731.57 878.89L731.67 878.90L731.78 878.92L731.88 878.93L731.99 878.95L732.09 878.96L732.20 878.97L732.30 878.99L732.41 879.00L732.51 879.01L732.62 879.02L732.72 879.03L732.83 879.04L732.93 879.06L733.04 879.07L733.14 879.08L733.25 879.09L733.35 879.10L733.45 879.11L733.56 879.11L733.66 879.12L733.77 879.13L733.87 879.14L733.98 879.15L734.08 879.16L734.19 879.17L734.29 879.17L734.40 879.18L734.50 879.19L734.61 879.20L734.71 879.20L734.82 879.21L734.92 879.22L735.03 879.22L735.13 879.23L735.24 879.24L735.34 879.24L735.45 879.25L735.55 879.25L735.65 879.26L735.76 879.27L735.86 879.27L735.97 879.28L736.07 879.28L736.18 879.29L736.28 879.29L736.39 879.30L736.49 879.30L736.60 879.31L736.70 879.31L736.81 879.32L736.91 879.32L737.02 879.32L737.12 879.33L737.23 879.33L737.33 879.34L737.44 879.34L737.54 879.34L737.65 879.35L737.75 879.35L737.85 879.35L737.96 879.36L738.06 879.36L738.17 879.36L738.27 879.37L738.38 879.37L738.48 879.37L738.59 879.38L738.69 879.38L738.80 879.38L738.90 879.39L739.01 879.39L739.11 879.39L739.22 879.39L739.32 879.40L739.43 879.40L739.53 879.40L739.64 879.40L739.74 879.41L739.85 879.41L739.95 879.41L740.05 879.41L740.16 879.42L740.26 879.42L740.37 879.42L740.47 879.42L740.58 879.42L740.68 879.43L740.79 879.43L740.89 879.43L741.00 879.43L741.10 879.43L741.21 879.44L741.31 879.44L741.42 879.44L741.52 879.44L741.63 879.44L741.73 879.44L741.84 879.45L741.94 879.45L742.05 879.45L742.15 879.45L742.25 879.45L742.36 879.45L742.46 879.46L742.57 879.46L742.67 879.46L742.78 879.46L742.88 879.46L742.99 879.46L743.09 879.46L743.20 879.46L743.30 879.47L743.41 879.47L743.51 879.47L743.62 879.47L743.72 879.47L743.83 879.47L743.93 879.47L744.04 879.47L744.14 879.47L744.25 879.48L744.35 879.48L744.45 879.48L744.56 879.48" fill="none" stroke="#000" stroke-width="3.1" stroke-dasharray="4.25 2.84" clip-path="url(#cBR)"/>
</svg>
</body></html>
